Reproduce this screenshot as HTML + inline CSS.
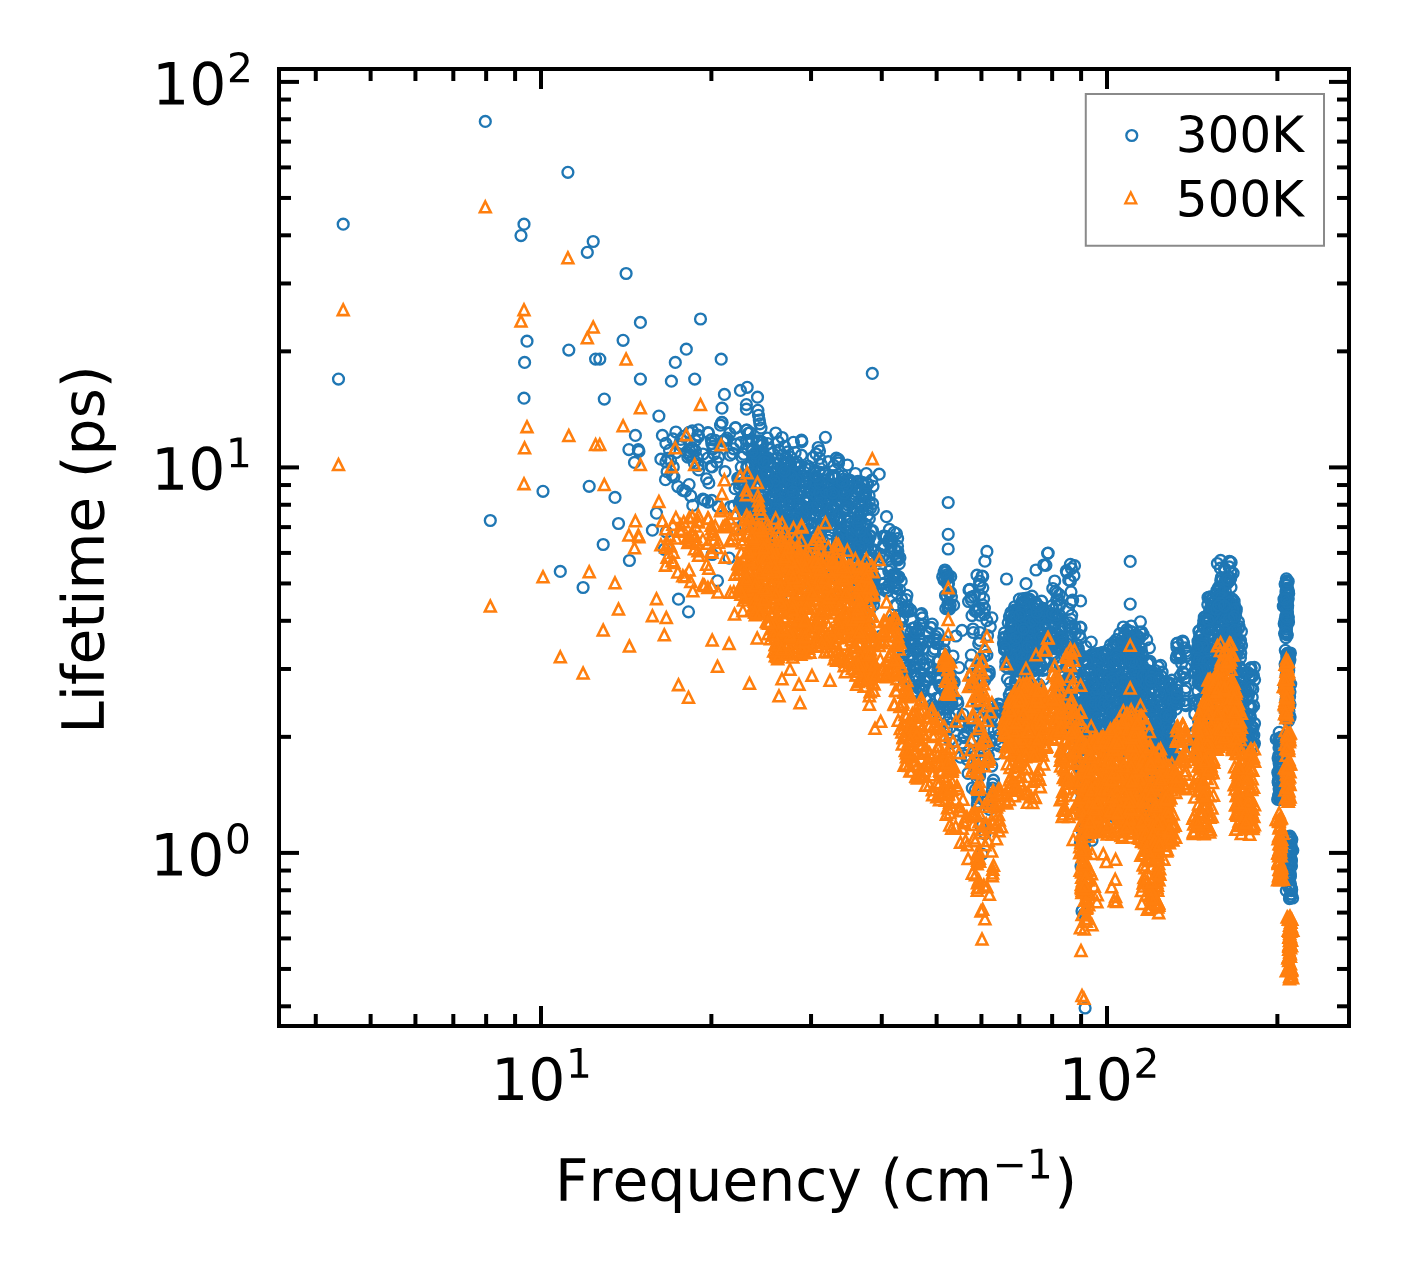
<!DOCTYPE html>
<html><head><meta charset="utf-8"><style>html,body{margin:0;padding:0;background:#fff;overflow:hidden;font-family:"Liberation Sans",sans-serif}svg{display:block}</style></head><body><svg width="1408" height="1275" viewBox="0 0 168.96 153" version="1.1"> <defs> <style type="text/css">*{stroke-linejoin: round; stroke-linecap: butt}</style> </defs> <g id="figure_1"> <g id="patch_1"> <path d="M 0 153 L 168.96 153 L 168.96 0 L 0 0 z " style="fill: #ffffff"/> </g> <g id="axes_1"> <g id="patch_2"> <path d="M 33.48 123.12 L 161.88 123.12 L 161.88 8.28 L 33.48 8.28 z " style="fill: #ffffff"/> </g> <defs><marker id="mc" markerUnits="userSpaceOnUse" markerWidth="16" markerHeight="16" refX="8" refY="8" overflow="visible"><circle cx="8" cy="8" r="5.43" fill="none" stroke="#1f77b4" stroke-width="2.35"/></marker><marker id="mt" markerUnits="userSpaceOnUse" markerWidth="16" markerHeight="16" refX="8" refY="8" overflow="visible"><path d="M8 2.57l5.43 10.86h-10.86z" fill="none" stroke="#ff7f0e" stroke-width="2.55" style="stroke-linejoin:miter"/></marker><clipPath id="axclip"><rect x="279" y="69" width="1070" height="957"/></clipPath></defs><g transform="scale(0.12)" clip-path="url(#axclip)"><path d="M485.3 121.4M567.9 172.3M343.2 224.2M524 224.2M521 235.6M593.2 241.5M587.3 252.3M626.1 273.5M640.4 322.4M700.5 319M527 341.2M623.1 340.3M568.8 350.1M686.3 349.2M524.6 362.4M595.6 359.1M599.8 359.1M675.3 362.4M338.5 379.1M640.4 379.1M671.4 381.2M694.7 379.1M524 398.2M604.3 399.1M658.9 416.1M721.2 359.2M872.3 373.4M543 491.3M589.2 486.3M615 497.4M490.3 520.5M618.5 523.5M603.2 544.5M560.3 571.4M583.1 587.5M629.4 560.5M656.5 513.2M652.4 530.2M666.3 532M664.3 549.3M678.5 599.2M688.5 611.8M712.2 554.5M729.1 558.1M717.5 580.8M749.5 597.8M757.2 552.6M734.5 528.5M742.9 525.2M756 525.2M749.5 503.2M741.8 505.4M692.8 505.4M704.5 500M711.7 500.4M635.4 435.4M662.4 435.4M675.9 432M628.9 449.6M638.3 449.6M638.9 451.4M634.5 462.4M660.9 459.2M667.8 458.3M687.8 457.1M695.4 450.8M672.1 475.3M677.8 486.6M682.8 490.3M702.9 499.1M697.9 435.1M707.9 432.6M721.7 422.6M735.5 427.6M746.8 430.1M722 408.2M724.4 394.4M740.4 390.4M747.2 387.3M757.5 397.2M746.4 404.6M746.4 409.2M757.9 410.3M758.5 415.3M759.3 420M759.9 423.8M761 428.1M722 422.4M720.5 425.2M735.5 428.1M746.5 430.2M748.2 433.3M775.7 433M801.5 440.1M825.4 437.3M784.5 446.3M795.1 452.5M816.1 453.9M807.9 466.1M821.4 464.6M833.9 465.7M847.4 465M879.2 474.2M867.6 484.2M708.5 433M698.5 436.6M727 438M767.4 438M948.2 502.5M948.2 534.3M948.2 549M886.5 516.7M889.4 529.4M899.2 563.7M956 636M962 630.4M953 656M959 667.6M986.9 551.4M984.9 561.2M1006.5 579M1026 583.7M1036 570M1047.6 553.3M1043.7 565M1048.2 553.1M1045.9 565.3M1054.7 581M1070.4 564.3M1070.4 581M1071 591.8M1071 602.5M1130.2 561.4M1130.2 604.1M1123.3 627M1131.2 626M1140.4 621.8M1140 632M1220.6 560.4M1286.4 578.8M1285.3 650.3M1085.1 1008M1084 914M1082 911M981 826M1092 840.4M1081 866M982 854M687.1 452.6M742.3 483.8M702.9 454M723 441.2M730.3 506.9M729.7 433.3M707.9 502.1M732.7 453.4M736.2 444.2M672.9 438.9M698 465.5M690.8 496M683.7 436.3M673.9 477.1M747.9 477.3M755.4 488.1M748.5 505.9M718 506.6M713 448.8M708.8 482.9M689.9 454.6M690.1 455.9M665.5 479.7M692.4 430.9M724.8 440.3M694.5 463.4M679.6 444M711 466.4M689.8 450.9M692.1 447.7M711.8 443.4M713.1 446.4M746.3 440.7M748.6 440.5M737.8 478.2M685.3 491.1M689.2 432.4M725 471.7M726.5 440.2M689.1 484.6M706.6 478.8M695.4 440.6M665.9 443.3M749.4 509.6M707.9 458M670.6 460.6M681.4 445.9M740.7 442.7M718.5 456.9M714.2 454M692.4 449.5M673.3 466.9M750.7 507.4M752 439.6M697.2 457.9M698.6 469.9M665.9 461.8M750.1 432.6M712 466.9M740.9 508.9M733.6 448.8M730 455.2M739.5 483.8M759.8 500.4M669.5 450.3M748.7 477.3M698.4 429.8M740.3 500.5M711.3 439.7M716.8 462M680.8 439.4M760.7 486.2M735.1 488.7M715.2 440.4M750.1 501.6M733.8 506.2M760.1 468.8M738.5 478.6M676.1 452.5M667.1 471.7M762.5 463.6M806.2 497.3M779.9 502.5M803.6 514.1M757.7 511.6M843.5 510M768.3 473.5M767.7 443.5M826.3 551.7M798 467.8M796.9 502.9M833.6 519.9M821.2 525.7M806.4 503M804.1 530.4M768.7 488.1M854.2 551.4M871.2 549.7M869 581.9M784.1 557.4M798.1 517.9M781 496.7M845.4 526.9M841.3 501.7M858.9 517.5M800.9 569M759 459.7M776.1 511.9M805 512.5M747.2 467.5M840.7 483.4M783.5 471.5M745.8 504.4M861.9 504.9M796.6 562.4M832.8 527.7M862.3 495.6M788.7 499.1M800.5 493.1M771.6 481.1M848.1 505.1M873.3 509.8M834.3 491.1M776 488.9M812 523M807.7 562M789.2 565.3M837.7 501.2M791.2 504.5M832.2 476.5M778.7 450M758.9 496.1M871.3 530.9M833.6 488M838.7 518.4M801.2 567.2M792.9 513.3M816.3 535.4M801.5 543.2M795.6 552.6M748.1 490.8M754.7 524.7M772.9 467.2M850.2 480.4M749 506.3M855.5 491.3M856.8 482M866.2 536.2M801.1 508.1M790.1 465.4M825.1 499.9M802.6 539.9M838.6 552M796.9 565.3M836 504.4M797.1 499.7M850.5 540.3M870.2 606.5M751.9 523.4M779.4 518M776.4 537.4M793.1 482.4M801.9 548.7M864 497.4M746.6 512M819.4 487.3M840.5 493.8M775.3 559.1M756.3 454.8M852.8 486.1M863.1 537.5M795.2 516.7M802.7 533.3M843.9 548.1M792.4 551.9M836.4 488.7M792.1 481M839.8 543.8M773.2 549.6M794.7 515.7M861.8 488.7M787.9 523.5M792.9 502.3M840.9 551.7M782.3 548.4M832.3 514.6M779.6 545M795.1 514.7M841.9 532.9M776.3 567M815.2 491.6M746.8 466.8M786.7 481.4M864.6 566M795.9 464.4M816.2 510.2M774.9 478.5M816.2 488.5M761.9 475.6M840.2 517.9M867 593.7M780.5 553.5M779 527.2M868 546.3M777.6 458.1M820.5 534M817.3 560.2M861.4 571.6M784.5 479.9M775.1 547.3M754.5 509M785.5 458.7M852.4 583.1M772.7 453.5M824.6 473.5M818.5 506M856.8 492.2M800.2 536.2M861.4 594.8M777.3 476.8M823 540.7M809.9 491.4M797.8 533.1M823.5 492.5M751.7 472.2M783.5 517.7M774.3 526.3M842.7 547.4M799.8 466M769.7 508.1M755.2 520.7M871.9 590.8M828.3 540.4M827.1 483.1M839.1 530.9M867 566.4M828.2 475.6M802.5 566.2M807.3 478.7M825.1 566.5M773 495.1M766.5 516.9M746.1 510.5M749.7 483.3M778.7 504.2M866 563.6M862 580.6M862.7 539.5M760.6 472M756.2 506.6M799.9 517.6M804.1 516.6M817.7 560.9M814.4 499.4M868.1 585.9M790.5 464.6M820.3 483.2M834.8 492.9M837.3 505.9M778.3 571.1M805.9 554.5M784.4 490.8M869.8 593.6M826.2 498.7M751.8 449.5M775.8 565.9M773.7 482.9M873.5 605.1M816.7 550.4M784 463.9M741.6 498.3M756 484.9M788.3 558.1M775.4 481.1M792.2 545M819.4 507.6M815 541.3M838.6 474.8M869.2 575.7M847.8 568.1M771.6 530.1M861 530.9M872.5 573.9M794.4 548.8M851.2 504.1M789.4 472.2M798.3 538.4M834.7 507.6M855.3 521.6M779.3 565.3M775.4 570.5M803.4 564.5M812.7 478.2M807.6 550.2M768.9 537.9M867.5 515.5M739.5 504.4M819.9 532.2M753.8 504.2M762 442M834.7 515.7M796.2 474.6M856.7 528.8M760 461.7M785.8 556.6M836.8 552.5M757.4 441.3M827.5 504M757.5 466.7M807.2 538.3M787.3 519.8M793.7 532.7M861.1 545.8M818.2 547.5M740.3 478.1M804.4 561.7M869.3 518.7M818.3 490.9M843.7 488.8M821 524.7M779.4 534.7M759.1 502.2M806 513.2M779.3 481.3M746.3 508.1M771.1 495.9M775.3 499.9M754.6 500.5M843.2 540.5M788.5 526.9M742.9 498.7M805.3 468.2M764.1 490.5M767.7 457.6M777.2 571M853.6 562.5M766.2 504.5M779.2 568.6M823.2 547.7M775.4 552.1M863.9 484.6M782.8 549.6M806.5 542.6M836.7 547.3M771.8 512.5M854.5 498.9M798.3 543.5M786.3 486.4M809.9 469.1M792.6 475M795.6 483.3M862.2 482.4M797.2 546.1M767.3 522.5M847.2 542.4M784 462.9M799.7 519M776.3 505.7M790.4 457.1M862.9 576.6M821.6 482.5M814.6 501.7M767.2 486.8M817.7 490.1M859.8 569M805.1 476M745.5 504.9M754.2 458.3M779.1 497.4M791.7 523.6M847.3 521.3M870.3 588.2M809.2 508.7M789.2 567.3M844.2 580.5M745.2 490.4M783.6 505.5M816.6 485.6M872.6 503.7M767.8 507.5M799.8 533.5M763.9 515.8M848.5 480.4M841.7 537.3M819.3 472.1M867.8 573.9M748.2 510.9M748.5 478.5M849.5 540.8M865.1 503M757.1 465.4M767.6 473.2M796.2 536.2M746.5 497.9M844.1 482.3M874.3 551.6M837.7 488.2M743.5 496.7M864.6 565.9M843.5 511.4M870.1 536.5M770.3 476.6M813.6 532.7M776.8 482.8M805.4 540.4M794.8 531.3M754.8 525.1M869.4 593.3M770 449.4M860.7 523.1M774.2 483.6M790.7 476.4M772.2 543.3M865.4 550.3M856.4 589.8M762.1 442.6M803.9 516.7M808.7 562.8M857.2 523.7M767.3 480.9M759.9 465.3M787.9 520.9M856.6 540.7M778 464.5M799 477.3M779.7 516.4M858.5 596.3M752.6 450.5M843.6 492.3M856.8 565.7M814.1 504.4M843.6 479M748.6 501.2M865.6 494.5M800.4 530.7M809.7 488.2M864.4 523.9M760.2 445.5M784 477.7M781.1 477.5M788.2 475.8M832.9 524.4M749.2 475M805.2 567.4M852 496.9M813.4 546.4M785.7 482.2M794.6 565.3M828.1 523.2M860.8 506.9M803.3 485.4M811.8 559.8M784.4 566.3M794.6 548.6M763.3 527.6M857.4 577.2M751.3 464.4M870.7 564.7M785.3 518.8M837.1 540.5M769.3 461.7M772.9 527.9M849.9 571.2M870 535.6M833.6 487M864.6 585.5M818.2 501M765.7 521.2M790.9 472.3M780.1 537.7M824.7 496.2M854 511.6M860 520.2M861.5 543.9M857.2 511.8M753.3 512.4M852.7 482.7M864.4 495.5M774.1 492.1M845 537.1M755.7 523.1M808.8 497.1M755.4 529.3M851.5 554.5M852.8 539.8M840.6 539M782.4 468.9M754.1 454.2M835 484.7M816.6 478.3M873 597.4M829.9 515.6M761.4 459.5M821.1 548.2M845.7 488.7M829.2 565.6M842.2 488.4M798.8 483.4M790.3 465.2M845.6 510M852.5 541M847.8 528.1M846.3 494.7M766.4 536.1M743.3 501.7M793.8 561.4M857.8 542M828.4 566.3M780.4 510.4M817.7 501.9M759.3 510.8M859.2 547.7M874 583.4M860.2 516.6M758.4 521.4M758.6 514.5M783.5 531.7M823.1 518.7M815.2 555.5M773.7 565.7M831.3 551.4M774.8 491.3M783.6 504.6M874.1 598.6M770.2 505.8M804.6 554M787.8 481M760.6 451.2M836.7 574.8M843.4 494.9M793.4 498.4M810.2 514.9M867.5 509.3M754.3 516M778.3 483.9M809 529.2M846 530.7M870.8 555M866.2 594M820.2 531.2M802.1 564.8M820.2 536.8M862 593.7M787.2 559.1M797 536.1M809.9 566.8M865 589.6M792 553.2M831.3 551.1M776 545.7M853.5 560.4M762.7 479.8M815.2 514.3M760.8 455.6M780.6 561.9M761.3 512.9M871 580.3M861.6 540.4M844.8 525.9M792.8 571.5M814.8 494.7M748.3 504.4M793.2 471.7M761.9 519.4M795.1 511M769.1 505.4M815 470.3M799.3 472.7M859.4 535.4M830.5 508.6M786.1 521M792 535.3M874.2 577.2M861.8 483.5M791.2 535.4M845.8 575M755.1 463M747.9 449.7M841.7 574.5M808.6 522.2M761.5 470.1M758.4 482.7M856.8 540M782.8 523.9M850.7 547.7M777.2 471.1M787.9 493.7M754.7 493.7M760.6 526.9M843.5 490.3M794.1 523.3M804 521.2M785.2 485.4M775.4 507.2M791.8 551.6M858.8 487.6M856.7 531.2M846.6 507.3M739.5 487.7M759.4 508M873 486.3M826.2 557.2M866.9 539M822.5 506.4M836.5 551.6M800.6 518M768.2 548.3M866.5 539.4M775.4 505.3M773.7 462.8M761.9 469.8M838.4 564.3M806.6 521.7M851.4 551M823.5 472.6M823.3 479.9M851.4 523.3M767.9 458.7M781.4 518.6M861.8 512M826.2 519.4M797.1 514.5M843.2 476.1M870.8 577.4M759.3 440.9M783.8 476.7M750.1 494.9M777.7 573.3M866.4 525.1M791.9 494.5M809.6 491.7M859.5 580.5M798.5 496.6M788.7 568.4M800.9 508.5M843.3 558.8M862.2 574M855 526.2M770.4 553.3M754.5 477.5M763.5 479M860.8 579.2M786.3 464.3M831.3 544M783.3 543.1M831.4 499.8M772.5 467.2M797.8 534.4M766.2 504.7M860.1 540.6M874 550.1M829.2 519.9M842.9 543.1M837.6 505.7M789.3 550.2M864.9 569.5M842.5 571.3M759.5 487.1M859.9 569.7M856.1 589.4M826.3 526.7M833 564.8M804.8 533.9M796.9 461.8M857.7 549.8M772 500.1M804.5 472.3M820.1 518.1M845 576.2M838.5 522.4M814.3 489.6M782.6 454.9M862 499.8M793.4 519.7M867 556.4M764 459.2M874.5 550.1M800.9 528.5M741.3 467.1M872.2 588.6M797.4 507.2M758.7 457.8M848.5 542.4M766.5 459.7M758.1 451.4M827.8 555.3M774.3 513.7M789.1 544.8M834.3 573.3M841.6 531M774.4 538.3M785.9 568.6M839.9 571.1M775.4 559.1M790.7 489.5M863.4 593.7M834.4 475.7M868.6 540.4M828.7 512.2M784.2 478.1M771.7 507.6M874.4 579.6M849.6 574.5M745.2 500.3M838.5 537.8M804.6 555.9M790 549.2M753.1 456M765.4 472M826 495.5M754.6 526.9M771.8 467.4M817 555.6M807.5 508.6M761.2 509.3M820.4 497.1M864.6 536.9M787 477.8M754.3 457.6M743.4 482.6M784.1 501.8M743.4 514.6M870.5 508.3M865.4 539.3M792.6 523.8M835.2 478.1M804.7 479.9M772.2 499.5M864.1 551.6M792 497.2M794.9 463.5M859.1 502.6M863.4 527.4M774.3 545M786 531.8M860 490.5M742.1 457.2M830.4 557M792.4 476.3M784.9 473.6M855.7 560.7M815.8 476.8M838.5 484.1M834.2 477.6M857.9 481.3M869.1 495.7M845.6 526.1M803.5 490.5M875.2 590.9M821.9 524.6M778.5 545.6M870.4 567.5M827.2 500.8M773.5 549.5M768 465.9M807.7 501.7M831.7 508.4M819.4 492.7M825.9 491.8M846 508.6M779.9 501.5M809.8 480.5M805.7 483.1M873.3 557.9M866.7 483.2M749.3 487.3M751.8 493.3M818.7 479M743.7 454.3M775.4 486.1M837.8 537.6M797 479.8M820.1 483.9M832.5 493M835.8 569.1M852.2 534.5M759.7 528M752.1 497.8M856.1 586.1M781.6 563.6M844.3 493.3M858.2 557M755 453.1M827.1 552.5M859.3 546.6M774.4 481M832 475.8M740.6 505.9M857.2 585.7M788.5 479.9M817.5 505.2M789.2 503M858.3 578.9M794.4 480.9M821.8 527.9M802.6 552.2M788.1 462.5M827.2 558.4M799 495.2M791.1 486.8M804.8 535.3M860.1 531.2M783.4 544.1M745.7 491.4M810.2 545.6M869.2 501.9M857.5 528.3M859.2 514.5M812.3 508M749.4 473.8M858 523.5M835.4 556.7M762.4 445.1M758.6 442.1M770 536.1M791.4 476M846.9 486.1M766.8 473.5M763.6 461.9M865.8 490.9M753.1 500.3M805 551.3M872.6 530.6M822 557.5M764 513.8M815.5 476.1M784.5 471.1M746.7 493.6M853.6 579.3M767.5 484.2M775.8 508.8M766.4 504.2M767.4 537.2M793.3 492.2M752.2 451.3M842.3 481.6M755.2 499.7M747.9 466.3M763.4 502.5M864.2 600.9M793.4 442.3M819.5 450.9M778.1 441.9M801.9 441.6M819.7 458.4M782.1 437.5M818.2 447.5M838.5 462.9M871.8 480.2M801.4 455.2M855.4 473.5M866.3 473.6M838.6 460.6M838.4 459.4M836.3 458.2M812.9 457.4M787.8 451.9M828.3 461.7M897.9 556.2M941.1 687.3M914.6 627.6M901.9 646.9M897.1 558.5M911.9 645.8M930.2 677.8M922.6 658.7M919.3 688.9M921.6 644.2M896.9 593.4M894.7 585.9M941.7 669.2M919.1 686.1M898.2 635M886.4 587.8M905.8 678.9M893.2 581.8M888.8 571.3M899.9 557.7M935.8 636.6M896.3 558.3M909.9 685.8M882 584.1M939 680.4M959.5 721.4M930.6 627.6M917.1 647.8M892.2 540M906.1 599.6M939.9 697.3M950.1 675.3M890.5 550.8M949.7 663.1M906.3 631.5M910.5 609.9M906.5 671.6M947.6 722.6M904.7 610.8M895.4 574.5M929.6 667.6M937.9 640.1M899.7 589.8M918.6 629.8M906.4 667.7M892.9 577.6M919.7 659.5M907.4 611.6M937.4 643.4M902.4 658.8M954.2 682M905 629.4M901.6 599.5M932.2 624.1M917.9 651.5M901.2 580.9M917.5 692.8M940.2 686.2M929.1 641.1M905.3 665.3M908.2 609.3M923.3 649.1M895.1 576.8M922.9 624.3M909.5 639.3M902.6 619M903.8 607.1M947.5 671.5M932.6 689.7M905.8 645.9M921.2 673.3M894.2 532.3M952 686.2M939.6 685.3M894.9 550.1M952.1 704.3M883.4 583.4M886.2 536.6M945.9 695.8M884.1 555.4M943 669.9M952.3 684.5M888.8 585.2M883.1 589.4M949.8 682.9M913 660.4M950.1 681.8M897.2 576.7M908.8 680.3M937.6 661.7M900 621.2M910.9 632.3M931.4 627.6M912.3 640.1M923.6 668M912.4 628.4M902.8 616.9M879.7 554M918 654.4M920.4 614.8M936.8 677.2M952.5 680.6M913 641.1M912.5 644.5M925.6 700.1M891.1 538.4M945.4 715.1M931.4 672M938 669.5M912.2 685.3M907.5 606.8M900.3 643.3M895.9 558.9M909.9 669.5M894.6 619.4M944.4 691M883.2 547.9M943.3 653.9M922.5 641.4M927.2 676.8M880.3 573.9M924.6 680.9M929.5 699.7M919 630.7M898.5 577.5M906.9 595.3M933.1 651.3M895.6 605M924.3 685.5M913.8 675.5M914 667M940.3 677.5M909.7 641.1M890.9 566.8M921.6 613.6M943.7 709.1M932.4 704.6M884.3 536M908.6 656.4M903.5 639.6M915.4 675.5M906.5 649.6M899 576.8M904.1 679.9M879.3 560.3M894 618.7M923.6 648.4M891.4 546.2M936.9 711.5M922.3 617.9M952.3 697.3M916.6 691.5M947.6 709.4M897.5 546M918.9 638.6M926.9 679.7M919.6 624.4M923 691.2M934.4 639.2M894.6 587.4M932.7 709.6M936.2 643.4M888.8 542.5M938.2 633.7M936.8 698M888.1 590.5M915.4 667.1M944.1 701.8M926.4 631.5M896.4 533.6M912.3 671.5M944.2 649.9M947.4 666.4M897.8 560M896.6 588.4M948.6 681.9M913 643.7M914.5 642.8M919.1 647.5M909.3 666.4M943.9 650.3M897.8 551.3M939.3 660.8M903.2 651.7M882.1 557.5M890.7 569.5M934.8 649.1M915.9 691.1M889.4 538.6M886.5 591.4M896.6 605.6M893.2 574.6M915.8 632M949.3 663M883.6 536.1M910.8 610.8M949 702.4M919.1 686.5M916.6 650.3M947.3 677.1M921.9 689.5M944.1 641.1M926.6 663.8M903.2 652.6M924 664.8M883.6 544.7M928.9 632.5M884.2 547.8M897.6 538.5M910.4 654.6M998.7 708.3M998.4 704.2M992.6 788M950.1 727.7M991.3 718.8M976.5 772.5M985.4 741M995 719.4M979.6 776.1M984.9 833.8M964.1 737.6M957 700.5M977.3 701.4M976.7 729.6M1000.2 704.6M979.3 773.3M963.8 735.8M977.6 775.2M992.8 784.2M990.3 714.4M992.8 737.3M1006.8 718.2M979 717.6M973.8 752.9M963 714.3M998.5 729.5M980.5 747.6M991.7 766.1M977.7 802.2M962.3 743.1M951.7 743.2M980 729.7M939.7 709.4M973.9 730.6M979.8 702.8M948.5 708.6M986.9 801.8M999.3 710.3M1005.9 709.1M977.5 797.7M977.3 767.6M939.5 714.7M977.3 805.2M999.3 735.1M971.8 729M960.5 757.2M949.7 717M990 711.4M967.4 759.6M984 721.2M966.9 731.6M986.2 738.5M968.1 773.4M962 725.7M991.9 717.3M977.1 702.7M994 730M972.3 788.1M977.2 778.6M992.3 790.8M975.3 755.8M996.5 753.9M945.3 704.3M996.5 722M999 745.9M981.3 744.5M982.7 824.4M993.5 780.2M998.4 720M985.1 759.7M992.4 709.7M989.4 809.4M955.6 714M1006 716.2M1005.3 709.6M990.5 742.7M959.6 725.2M949.8 739.9M993.2 705.9M978.7 766.2M983.8 800.1M965.6 755.4M950.8 702.4M1001.6 741.9M955.7 741.2M978.7 794.6M988.3 755.6M978 704.3M996.4 739.4M946.4 729.2M978.9 736.7M973.2 739.5M974.5 727.6M975.5 789.6M957.8 703.4M779 610.5M800 617.5M782 593.5M799 599M790 584M845.4 586.5M856.7 599M869.4 610.5M869.4 619M880.7 636M875 643M812 590M830 595M944.9 570M953.6 605.2M945.5 595.5M942.7 576.7M949.4 609M946.9 596M948.1 602.9M944 580.1M947 574.6M950.2 605M946.4 571.8M950.6 592.3M948.4 575.9M944.8 579.1M945.8 608.7M948 606.3M946.8 577.5M948.5 583.6M947.8 584.5M950.7 576.7M947.7 578.1M948.3 608.9M944.2 572.1M948.9 592.8M951.4 597.1M982.5 604.8M969 589.9M979.4 608.3M972 615.6M979.8 615.2M977 611M979.9 595.2M979.9 585.1M976.1 611M971.3 597.2M969.9 589.4M984.5 614.3M979.6 581M977 575.2M983.6 598.7M982.8 587.8M982.1 576M968.6 601.5M978.9 609.8M979.7 584.4M984.4 608.2M975.1 611.2M982.7 576.5M971.5 600.2M974.1 596.2M978.5 679M989.1 671.3M979.3 696.5M973 629M971.9 685.6M973.3 682.4M986.4 674.2M978.7 643.6M987.5 635.5M979.8 640.5M977.8 687.8M980.8 658.8M986.8 620.6M976.2 686.3M979.9 632.6M971.4 655.1M972.4 674.2M980.4 665.2M990.3 626.8M986.9 655.1M971.5 676.8M977.8 681.5M991.9 617.8M970.8 664.8M984.1 656.6M989.2 674.2M984.9 651.3M987.5 676.4M973.3 632.5M984.6 680.7M1043.8 614.3M1035.3 627.6M1017.7 622.5M1039.6 629.9M1033.5 664.8M1046.6 638.6M1031.9 665.4M1038 668.4M1030.9 671.2M1004.8 638.3M1019.4 599.1M1012.8 642.6M1004.5 632.9M1017.4 642.4M1014.5 610.1M1014.3 664.8M1011.3 631.2M1010.3 648M1018.4 614.1M1027.9 600.1M1039.5 657.1M1032.3 636.3M1011.5 623.8M1030.4 641.1M1016.7 637M1025.6 671.8M1037 618.5M1011 612.5M1040.9 667M1012.7 632.2M1009.2 643.5M1013 627.6M1018.9 653.3M1009.2 634.4M1034.6 624.6M1010.4 639.9M1030.7 629M1021.5 669.3M1035.4 662.8M1028.8 627M1039.8 641.9M1024 641.8M1024.5 636.2M1020.3 621.6M1040.2 651.1M1038.8 616.2M1036.9 653.4M1021.9 634.2M1010.9 643.3M1027.5 621M1031 630.8M1020.3 632.9M1014.3 630.8M1027.6 605.5M1016 662.9M1030.2 621.5M1008.1 667.8M1026.5 598.6M1029.4 638.5M1021.5 641.4M1042.6 608.5M1008.9 643.5M1028.5 655.6M1036.4 662.2M1044.6 648.9M1020.1 618.5M1038.1 639.8M1024.3 654.6M1021.7 655.2M1028 664.9M1022.1 630.8M1048.7 649.3M1015.5 668.1M1028.8 617.4M1025 614.8M1033 633.4M1018.8 639.3M1032.4 658.5M1028.7 600.5M1029.5 599.1M1024.1 652M1011.9 620.8M1042.5 612.4M1009.7 649.1M1026.8 623.1M1025 623.4M1013.6 637.9M1003.8 637.4M1014.6 606.8M1031.7 623.6M1014.6 655.7M1021.2 603M1009.5 616.6M1024 649.2M1035.1 618.3M1015 665.2M1022.5 620.4M1034.1 608.4M1003.5 643.5M1038.7 637.8M1025.3 657.1M1023.2 638.2M1043.2 608.3M1028.6 635.2M1035.1 662.5M1033.2 626.1M1030.4 657.6M1006.9 643.5M1016.1 636.5M1027.6 644.7M1020.5 610M1008.2 622.8M1046.8 642.6M1019.7 648.1M1024.8 600.4M1022.9 665.3M1019.9 611.2M1037.7 612.5M1022.9 649.8M1035.7 602.4M1012.6 660.6M1026.4 658.7M1025 638.6M1014 631.1M1020.2 666.7M1044.2 624.8M1039.9 612.8M1025.9 666.5M1045.5 616.3M1033.2 611.5M1041.5 643.7M1040.8 664.7M1026.8 598.1M1042.8 670.3M1044.2 622.8M1022.6 656.9M1031.4 640.9M1027.8 610.2M1014.2 652.5M1038.7 621.1M1021.7 654.1M1046.5 640M1004.5 649.9M1010.1 639.9M1017.5 670.4M1008.3 657M1046.8 661.6M1008.5 656.5M1027 617.7M1041 648.6M1035.4 661.5M1046.5 650.1M1013.2 641.3M1041.9 612.5M1015.9 630.3M1031.4 627.9M1044.5 660M1015.4 651.5M1023.3 620.9M1035.4 617M1033.9 640M1022.8 621.5M1042.7 652.4M1010.2 657.1M1022 647.1M1031.6 656.8M1042.5 619.6M1037.5 669.4M1035.6 659.2M1039.2 613.7M1025.9 640M1015.5 649.4M1032 596.2M1045.3 618.4M1015.4 670.9M1047 651.5M1017.2 610M1043.3 629M1028 613.6M1016.3 666.6M1034.5 652.8M1013.4 632.8M1014.1 640.9M1025.9 670.9M1039.7 630.3M1018.5 610.9M1040.3 638M1041.6 601.2M1036.7 604.8M1014.1 633.8M1005.1 642.4M1030.5 608.2M1011.6 657.1M1045.9 662.6M1032.4 645.7M1044.2 643.3M1028.9 605.5M1013.9 645.7M1034.3 620.1M1023.1 598.7M1009.4 637.3M1006.6 650.3M1023.9 604.4M1031.7 647M1016.1 637.9M1034.9 604M1045.4 626.4M1030.3 621.8M1011.4 614.8M1038.6 654M1016.3 616.6M1023.4 629.3M1004.4 647.5M1008.6 661.7M1005.7 666.7M1039.7 617M1036.7 669.5M1043.6 611.1M1010.7 625.8M1021.3 611.5M1005.8 661.7M1036.6 612.5M1038.4 605.9M1025.9 670.5M1023.5 629.1M1013.4 617.1M1027.7 646.7M1045 660.9M1033.7 670.8M1019.4 615.6M1027.1 682.7M1037.9 690.5M1028.4 708.2M1035.3 712.7M1027.5 717.5M1039 684.6M1010.1 682.6M1021.3 699.9M1009.5 714.6M1017.8 703.1M1015.4 681.3M1007.4 678.8M1011.8 697.9M1009.3 703.7M1016.6 678.6M1018.3 678.5M1031.2 712.1M1014 702.6M1015.8 686.7M1025.7 707.5M1039.7 694.5M1019.8 678.7M1015 701.6M1043.6 679.2M1036.6 694.7M1027 691.8M1019.6 675.9M1014.5 710.9M1033.4 696.5M1009.4 700.9M1020.7 690.5M1009.3 695.1M1019.3 696.1M1040.3 701.9M1034.8 711.9M1027.4 684M1018.7 705.3M1032.7 717.8M1010.8 691.6M1023.7 709M1052 605.8M1058 646.4M1054.2 617.3M1058.1 642.6M1055.3 618.2M1053.3 654.8M1057.3 648.6M1053.2 609.6M1058.4 617.7M1055.5 591.3M1057.8 639.6M1054.1 622.6M1057.1 618.7M1057 593.1M1054.6 625.6M1057.1 646.6M1057.5 633.8M1052.5 614.2M1056 633.1M1059.7 640.6M1055.1 614.6M1052.8 588.5M1057.4 645.2M1059.4 615.2M1052.1 653.1M1055.6 618.9M1052.1 647.6M1055.3 631M1058.7 641.8M1059.5 605.5M1059.3 594.6M1057.5 642.9M1056.3 606.3M1056 614.9M1058.5 599.9M1054 638.6M1055 648.6M1056.6 599.8M1054.1 637.4M1052.2 613.6M1068.7 579.9M1066.3 570.8M1067 572.6M1071 619.3M1072.6 600.2M1080.6 600.9M1073.9 575.7M1069 622.8M1074.5 565.7M1071.4 568.5M1068.4 609.4M1071.7 615.3M1072.6 651M1064.7 657.2M1063.8 729.4M1065.4 694.9M1064.9 627.8M1066 689.5M1076.5 678.7M1062.8 638.2M1072.6 654M1071.6 647.8M1070.5 670.3M1061 646.5M1076.1 671.5M1068.4 698.7M1066 704.4M1060.4 646M1078.6 696.4M1072.1 627.9M1075.5 667.6M1060.7 631.7M1060.3 665.8M1072.6 677.3M1071.5 694.1M1066.7 691.2M1066.9 654M1062.7 636.7M1071.9 698M1064.1 675.3M1076.1 667.9M1074.2 702.9M1062.3 732M1076.9 720.2M1062.9 673.2M1075.2 654.1M1062.6 711.2M1080.4 638.3M1080.2 696.5M1064.5 655.5M1078 703.1M1063.4 692.9M1063.5 683.5M1069.1 664.8M1064.7 685.4M1081.3 687.8M1067.5 637.6M1079.3 635.1M1068.5 677.2M1061.5 666.4M1075.3 633.7M1068.4 626.5M1068.7 664.7M1080.2 627.2M1071.2 687.1M1071.5 729M1075.8 696.5M1061.3 642.6M1075.8 722.6M1064 692.7M1080.5 654.6M1060.4 675.6M1066.8 664.9M1062.7 706.8M1062 713.8M1072.8 646M1074.7 627.3M1080.7 715.6M1081 627.8M1064 725.6M1064 676M1062.8 725.3M1067.4 694.9M1060.7 681.4M1077.4 651.3M1066.8 643.5M1071.2 636.9M1081.1 657.1M1069.7 656.5M1069.8 658.2M1081.6 656.2M1066 725.6M1078.3 648.5M1076.7 644.9M1060.3 715M1077.7 676.2M1075.6 665.7M1061.2 671.4M1075.2 710.4M1068.9 731.9M1071.1 647.8M1061.5 627.7M1086.4 768.9M1093.5 744.8M1090.1 748.2M1094.3 801.9M1089 724.8M1073.2 755.1M1090.4 709.7M1081.9 764.6M1091.2 642.1M1083 703.5M1089 793.4M1090.8 734.5M1082.1 830.1M1086.3 836.8M1086.5 834.2M1083.3 701.2M1081.1 696M1085.7 689.5M1091.5 657.8M1085.7 646.6M1085.4 677.3M1084.3 844.5M1087.6 742.5M1089.7 733.4M1086.9 691.2M1090.2 669.5M1081 749.7M1086.6 735.4M1083.8 688.3M1085.7 715.7M1082.5 778.1M1087.5 815.7M1079.9 657.7M1088.7 820.5M1091.1 655.2M1088.3 697M1091.5 789.4M1090.1 732.2M1082.7 683.7M1081.4 712M1084.8 823.8M1087.9 793.3M1086.3 816M1094.6 659.8M1086.6 830.4M1080.1 718.9M1084.9 659.5M1080.4 843.4M1083.2 785.8M1082.4 796.3M1081.3 802.6M1086.8 702.4M1083 724.4M1091.2 721.9M1086.9 809.5M1082.3 805.8M1080.9 758.1M1087 786.3M1085.9 780.4M1081.4 729.5M1092.5 706.2M1088.8 751.9M1086.2 742.5M1092.7 706.7M1086.4 804.3M1088.5 795.7M1089.5 785.3M1081.6 726.1M1087.4 705.4M1079.9 740.7M1083.6 768M1083.6 776M1086.3 824M1084 747.5M1086.9 822.7M1079.8 762.4M1083.6 767M1081.7 792.7M1080.1 785.7M1084.5 816M1092 746.6M1083.1 806.1M1086.1 763.9M1081.3 800M1085 775.7M1081.6 787.6M1089.1 746.8M1085.7 793.7M1079.7 768.2M1082.3 738.6M1081.9 808M1088.3 726.8M1085.6 800.4M1092.1 769.2M1078.4 715.8M1089.4 809.5M1082.1 756.6M1087.4 804.5M1081.7 804.1M1084.1 703.2M1085.8 726.7M1082.2 772.5M1089.3 714.2M1082.7 779.6M1081.2 726.4M1088 710.2M1082.3 757.6M1081.6 765.5M1081.3 713.2M1084.7 801.4M1111.7 802.7M1116.6 817.5M1115.2 795.1M1097.3 810.4M1114.2 816.7M1103.3 769.5M1115.6 812.4M1096.9 817.6M1115.6 775.1M1106.3 777.4M1101.4 720.7M1092.6 677.4M1097.2 747.4M1099.7 718.9M1086.6 697.9M1088.2 686.3M1094.7 661.6M1096.1 724.9M1096.5 684M1103.8 728.1M1093.3 664.5M1106.1 667.4M1107.7 705.8M1089.4 709.5M1104.5 689.5M1101.3 725.4M1090 668.6M1089.6 744.6M1106.6 670.5M1103.6 729M1087 735.7M1087 661.6M1102.4 670.6M1102.8 677.6M1103.3 726.7M1100.2 711.1M1094.3 719.5M1092 718.2M1102.2 716.8M1092.2 729.6M1094.6 689.4M1105.9 665.1M1088 671.8M1096.1 744.1M1105.1 737.3M1102.6 701.5M1102.9 669.2M1100.3 696.4M1095.5 712.1M1094.9 654.3M1106.2 692.1M1100.3 657.8M1089.4 691.8M1093.1 697.1M1103.9 714.7M1086.1 660.9M1102.5 731.8M1091.1 717.4M1101.1 708.9M1106 694.7M1089.8 690.1M1100.3 727.2M1094.4 680.3M1097.1 653.7M1099.1 744.8M1092.5 727.4M1104.1 689.6M1107.3 749.8M1086.6 663.5M1089 733.3M1095.1 700.4M1102.3 691.4M1095.7 654.2M1098.5 701.9M1094.7 655.9M1102.8 708.4M1092.1 728.6M1108 650.1M1103.9 654.3M1107.8 706.5M1094.6 669.8M1091.5 730.6M1098.4 706.6M1089.5 736.7M1093.7 688.9M1099.7 673.9M1092 684.6M1086.3 694.9M1096.5 735.7M1090.5 734.4M1101.4 675.2M1101.1 725.7M1087.7 683.5M1088.8 702.1M1086 681.3M1102 728.4M1103.6 653.9M1096.6 741.2M1094 703.8M1087.8 662M1100 730.9M1098.6 657.9M1101.2 652.9M1103.2 652.4M1093 712M1106.7 693M1096.5 734.5M1100.8 743M1105.6 711.3M1104.7 684.7M1086.1 701.2M1107.6 678.6M1097.5 733.8M1104.5 736.2M1103.7 709M1086.7 661.5M1098.9 680.1M1097.6 705.2M1100.2 742.7M1105.1 656M1095.1 702.6M1106.4 687M1089.1 686.9M1091.6 705.5M1097.1 732M1092.6 723M1104.4 675.8M1097.7 688.8M1100.8 701.7M1107.5 743.8M1093.7 683.9M1094.6 724.8M1100.8 705.6M1090.3 672.7M1097.7 718.4M1107.4 675.4M1090 737.2M1105.2 698.6M1104.4 741.3M1103.9 704.5M1127.6 744.2M1135.3 731.2M1121 680.7M1120.1 701.5M1145.4 750.4M1136.5 716.4M1126.5 696.7M1138.9 729.1M1118.5 670.6M1127.7 702.7M1133.9 642.4M1115.2 712.7M1136.1 641.1M1144.8 746.4M1120.5 683.3M1130.9 748.6M1119 656.3M1141 672.9M1114.3 667.3M1108.6 747.3M1126.5 741.8M1142.7 665.9M1129.5 641.7M1131.5 681.7M1144.4 742.7M1144.2 684.3M1134.2 643.9M1143.1 634.3M1122.6 753.2M1142.9 746M1114.8 714.1M1139.1 710.5M1119.8 715.5M1129.9 749.1M1144.6 703.2M1141.2 708M1123.2 701.7M1108.7 704.2M1130 703M1129.5 690.8M1136.2 662.3M1135.1 658.1M1136.7 658.9M1128.6 701.4M1115.6 666.6M1137.1 665.3M1146.5 707.5M1129.3 737.4M1136.2 635.2M1138.3 651.1M1113.6 723.5M1141.7 652.4M1109.7 670.1M1138.3 683.6M1124.9 734.8M1124.2 718.3M1124.9 729.5M1123.4 663.6M1132.6 716.6M1136.8 670.9M1147.1 740.5M1114.9 643.1M1123.8 711.8M1128.7 718M1115.6 702.4M1126.2 723.7M1123.8 684.3M1123.9 724.2M1136.9 664.1M1137.9 690.2M1132.5 658.4M1117.5 644.4M1140.5 749.7M1137.2 728M1116.4 653.4M1116.5 702.3M1131.9 646.7M1122.2 732.5M1130.9 681.6M1147.4 716.2M1139.9 684M1127.6 631.7M1130.5 740.7M1137.3 700.4M1118.2 692.7M1142.7 673.1M1122.9 662.8M1131.4 648M1140 740.3M1129.3 639.2M1149 691.9M1116.6 722M1112 729.2M1122.4 648.8M1113.7 682.8M1124.5 688M1146.7 755M1141.8 678M1137 692.6M1126.9 646.5M1124.5 645.2M1132 709.1M1120.5 747.9M1108.9 691M1149.3 710.2M1123.9 728.1M1116.5 670.8M1126.9 629.6M1118.9 664.8M1130.6 699.7M1126.9 687.4M1137.2 726.8M1148.1 683.8M1113.4 654.1M1114.6 705.4M1149.4 647.8M1133.7 671.4M1138.8 637.9M1122.1 724.5M1131.8 709.9M1131.9 722M1134.9 658M1116.5 679.5M1113.4 645.6M1139 657.8M1131.4 685.8M1147.3 721.9M1122.4 650.2M1122.5 738.7M1123.1 688.5M1133.7 653.6M1132.5 699M1126.4 697.3M1127 653.6M1132.3 675.2M1133.9 740.1M1143.9 689.4M1135.6 659.5M1125.4 689.2M1148.7 758.9M1147.9 663.5M1134.3 717.6M1142.5 757.4M1124.2 692M1132.1 737.4M1139.6 676M1127 695.9M1131.6 665.9M1149.5 735.2M1147.7 709M1116.4 639.6M1121.2 643.4M1136 718.8M1143.8 696.1M1146.6 697.4M1138.1 684.5M1149.9 678.2M1138 753.7M1147.4 673.3M1112.2 734.9M1119.7 633.7M1147.3 696.4M1123.7 668.8M1120.8 725.5M1120.7 684.5M1129.3 661.4M1147.4 670.4M1131.2 631.7M1143.5 682.4M1123.6 641.4M1122.7 685.8M1133.5 660M1120.2 733.2M1122.9 725.2M1134.6 731.5M1108.6 676.4M1131.7 742.7M1110.8 746.4M1136.1 725.8M1108.2 742.1M1130.8 665.1M1120 742.2M1110.6 682.9M1138.8 636.8M1115.8 685.7M1148.3 730.4M1116.5 645.5M1138.9 726M1149.2 753.3M1129.5 642.8M1124.5 634.4M1132.1 727.6M1122.5 643M1114.1 723.2M1122.1 690.3M1126.1 703.6M1129.1 679.5M1129.4 735.6M1149.1 690.7M1138.3 654.2M1111.5 720.3M1131.2 684.8M1140.1 679.9M1138.4 652.9M1124.3 703.6M1114.6 669.9M1114.2 642.2M1136.8 665.5M1146.7 639.8M1141.1 648.2M1116.1 724.3M1113.5 719M1138.6 740.4M1144.8 703.2M1137.4 672.5M1119.7 728M1110.8 738M1128.8 649.1M1118.3 659.7M1109.4 658.4M1148.6 682.7M1146.4 742.2M1113 700M1128.3 637.6M1138.4 670.1M1135.3 726.2M1138.1 717.1M1121 711M1138 693.5M1135.9 744.3M1117.1 645.1M1126.4 740.8M1144.9 710.2M1141.1 654.1M1113.5 705.6M1133.6 718.1M1116.5 738M1113.3 722.2M1117.7 746.7M1142.7 748.9M1127.1 742.9M1139.9 754.6M1129.7 735.2M1113.3 646.3M1110.5 644.9M1117 709.2M1133.2 747.5M1113.3 728.1M1128.7 707.2M1131.1 753.1M1130.2 705.1M1135.3 657.4M1143.2 656.6M1125.4 683.8M1145 736M1128.3 635.7M1140.4 716.9M1120.7 652.4M1147.2 750.5M1111.9 712.5M1144.9 707M1130.1 664.5M1142.4 693.3M1139.2 694.7M1133.8 713.9M1139.3 660.4M1135.7 662.9M1112.4 688.3M1134.9 735.3M1134.9 669.8M1118.2 716.8M1121 751.6M1131.4 706M1142 757.7M1129.7 645.4M1144.9 737M1115.8 659.7M1148.3 684.5M1136.5 686M1128.1 733.5M1131.6 661.8M1131.6 703.9M1128.3 645.2M1145.9 677M1122.5 638.1M1139.9 706.8M1141.9 736.7M1135.4 644.4M1127.9 727.8M1124.6 691.4M1113.4 665.3M1130 734.7M1110.3 726.5M1123.1 681.5M1110.8 695.4M1141.7 725.9M1112.4 749.8M1136 677.3M1130.2 713.6M1142.9 714.5M1129.7 724.3M1126.4 676.8M1143.1 738.6M1142 737.7M1117.6 728.7M1142.9 676.6M1116 655.4M1117.8 689.6M1149.6 702.1M1140.2 686.5M1131.1 683.1M1113.6 661.3M1116.5 680M1130 700M1141.7 632M1129.1 717.7M1131.2 653.8M1126.6 742.4M1114 688.5M1142.9 675.6M1124.3 709.2M1144.7 718.1M1139.4 638.3M1146.1 683.6M1132.1 696.7M1134.5 650.3M1123.5 682M1137.1 639.9M1112.2 678.8M1119.1 658.9M1164.6 743.5M1151 688M1161.4 676.4M1162.8 723.4M1156.7 748.9M1154.7 751.7M1166.4 747.4M1165.9 735.1M1170.4 731.8M1154.1 706.8M1161 720.9M1168.8 682.7M1169.4 699.1M1167.1 747.4M1150.1 661.4M1168.4 714.6M1162.7 738.6M1164.7 758.2M1154.7 677.2M1157 730.7M1167.6 719.4M1157.5 739.8M1157.3 745.8M1163.3 726.1M1155.8 725.3M1169.6 755.3M1171.8 706.7M1172.9 756.7M1169.4 701.5M1157.2 724.9M1159.7 700.1M1152.3 748.3M1155.6 757M1163.1 733.1M1160.7 725.5M1160.7 745.2M1156.4 702.1M1170 744.9M1172.9 743.1M1160.2 711.1M1159.3 706.7M1168.4 700.9M1156.1 712.2M1151.4 675M1151.5 682.5M1162.7 687.4M1154.7 692.1M1163.5 714M1175.6 753.9M1172.1 694.1M1169.4 696.1M1171.9 680.2M1158.4 666.7M1164.1 745.3M1160.5 740.4M1158.6 756.8M1155.3 670.5M1163.9 737.7M1170.7 714.5M1160.7 734.3M1154.6 746.8M1151.7 740.2M1170.3 714.4M1175.9 694.8M1154.7 677.3M1155.7 734.4M1153.9 738.6M1164 713.5M1159.5 737.5M1151.8 729.3M1166.1 716.6M1166.4 717.1M1161.9 723.3M1156.9 674M1153.5 737.5M1154.2 706.4M1154 704.4M1166.3 733.5M1169.8 730.9M1150.3 679.8M1166.1 720.1M1162.8 686.7M1165.6 686.7M1164.2 753.7M1162.1 672.2M1168.9 747.4M1171.4 703.1M1151.4 676.7M1175.2 741.9M1151.8 730.6M1169.7 745.3M1163.4 705.5M1150.1 663.3M1163.8 689.2M1150.9 718.8M1160 705.5M1156.5 678.1M1157.8 701.1M1167.6 742M1156.5 755.4M1157.9 748.2M1151 677.2M1167 744.3M1159.7 721.7M1166.9 741.3M1154.1 754.1M1173.2 730.8M1160.6 692.7M1153.6 672.9M1163.9 694M1156.1 720.9M1163.3 752.6M1169.2 683.7M1160.2 759.2M1164.5 753.3M1159.6 758.2M1169.2 722.6M1175 697.9M1168.4 742.2M1164.6 686.7M1164.4 717M1160.1 745.2M1168.9 710.3M1162.1 683.8M1173.6 740M1166.2 691.1M1172.4 749.8M1175 697.9M1163.6 681.7M1161.5 744.2M1167.2 728.1M1170.1 699.7M1160.6 665.3M1157.8 758.6M1169 716.6M1170.5 684.9M1167.6 758M1165.7 715M1159.8 756.9M1151.3 756.1M1175.9 709.2M1158.6 678.1M1168.3 741.8M1168.1 732.1M1150.9 680.8M1155.8 722.4M1160.6 695.6M1151.3 709.8M1172 688M1173 701.1M1144.5 796M1162.7 740M1153.9 742.9M1157.5 801.8M1156.5 750.9M1169.4 759.4M1156.9 799M1147.5 789.6M1167.3 766.4M1152.3 782.4M1154.1 806.2M1156.3 820.5M1156.8 786.3M1152.8 764.6M1171.5 747.6M1158.7 821.9M1147.9 756.7M1158 753.8M1162.9 754.6M1143.8 770M1141.6 757.3M1155.5 759.9M1143.2 799.3M1158.6 780M1151.4 763.9M1156.8 803.7M1157.8 823.5M1146.1 810.9M1149.7 752.8M1156.2 762.4M1158.4 819.3M1154.4 793.5M1150 811.9M1150.2 776.9M1146 749.5M1157.9 774.9M1165.3 762.2M1150.5 755.3M1158 788.2M1143.2 781.3M1150.6 823.8M1148.2 759.1M1158.8 788.9M1163 745.6M1168.5 749.7M1141.4 806.8M1147.8 775.3M1144.8 758.9M1148.8 769.5M1153.6 749.5M1155.2 757.9M1156.9 776.9M1159.7 785.2M1170.8 755.3M1147.2 763.3M1166.6 767.6M1147.5 797.7M1147.5 825.6M1159.1 775.4M1145 784.2M1143.9 793.7M1140.9 771.6M1155.5 772.2M1150.4 773.9M1154.2 757.3M1158.3 770.6M1162.1 745.5M1163.8 775.7M1155.2 762.4M1141.9 819.8M1159.6 761M1168.9 747M1157.8 740M1143.4 802.3M1147.5 766.6M1158.7 829.1M1159 796.1M1158.7 819.9M1154.3 819.2M1151.4 806.7M1157.9 796M1153.7 810.3M1157.7 806.9M1157.2 790.1M1155.4 814.5M1152.7 813.4M1152.1 808.7M1151.3 815M1151.6 798.2M1159.8 790.8M1216.9 590.3M1228.3 577M1230.4 561.9M1221.4 577.5M1225.2 579.9M1225.2 581.5M1229.2 566.9M1225.1 568.8M1231 587.3M1230.8 572.6M1217 592M1222.1 580.3M1227.9 582.5M1226.3 584.1M1221 594.1M1224.5 569.2M1220.8 580.5M1230.7 578.1M1225.4 591M1218.7 587.1M1231.1 562.4M1229.7 580.5M1222.9 591.9M1216.1 594.3M1233.1 573.1M1229.4 561.4M1219.6 588.9M1217.4 563.5M1227.6 579.6M1220.4 568.2M1236 628.6M1222.5 598.5M1235.9 611.7M1215.9 615.1M1228.2 609.5M1232.4 599.1M1222.5 606.8M1210.6 626.6M1230.9 620.6M1214.9 614.2M1217.8 608.3M1204.7 628.1M1205.2 622.8M1209.4 612.3M1219.4 607.3M1210.3 596.9M1212.3 598.1M1231.7 600.7M1209.1 597.4M1226.9 611.6M1207 619.5M1233.4 605.7M1220.8 627.7M1214.9 629.9M1221.6 606.2M1204.3 617.2M1228.2 624.6M1232.6 605.2M1216.3 615.3M1224.8 597.7M1207.8 604.6M1210.2 628.1M1221 615.2M1227.5 612.1M1211.2 603.2M1211.3 600.5M1206.1 622.5M1203 626M1222.9 603M1223.4 597.9M1228.4 613.6M1218.8 614.5M1215.7 609.5M1238.4 621.7M1210.1 609M1228.7 607.4M1238.5 628.6M1223.7 621.7M1239.1 626.5M1233.4 606.9M1211.6 626.6M1215.5 628.1M1220.8 620M1234.7 608.1M1220.1 607.1M1232.1 607.2M1228 627.5M1215 622.7M1234.4 605.5M1218.8 596.8M1225.9 600.7M1234 618.8M1234.1 601.2M1213.9 614.1M1226.4 628.3M1221.7 597.6M1228.9 602.9M1233.8 621M1213 614.8M1211.1 612.5M1210.3 626.3M1218.7 608.4M1230.1 602.2M1222.1 626.7M1230.7 608.4M1209.5 621.1M1213.1 608M1203.7 620.8M1234.5 614.1M1206.5 616.6M1206.2 620.3M1230.3 624.6M1208 621M1231.4 620.4M1229.9 609M1228.6 622.7M1235.6 616M1208 597.5M1232.9 609.5M1208.5 625.8M1236.3 609.2M1229.1 619.1M1213.8 602.5M1220.5 603.2M1224.5 607.2M1234.3 616.4M1216.6 609.5M1208.3 620.3M1218.4 605.5M1224.4 606M1215.1 642.7M1197 664.4M1205.9 648.4M1200.7 660.9M1199.4 630.8M1228.3 647.4M1227.8 633.9M1197.7 659.8M1230.4 640.5M1210.3 644.4M1199.9 648.3M1228.8 642.3M1222.8 641.5M1214.5 636.3M1220.8 641.1M1207.7 666.3M1239.6 666.6M1198.6 648.1M1224 654.2M1203.8 658.8M1201.9 634.2M1200.8 644.5M1236.5 639.8M1211.7 644.5M1200.6 646.3M1231.5 662.7M1217.6 631.7M1233.4 665.6M1200.1 657.2M1224.8 647.2M1203.5 649M1240.8 653M1232.3 665.9M1241.4 631.5M1218.8 647.1M1225.6 661.7M1232.2 632.8M1203.5 653.2M1208.7 639M1219.5 638.8M1198.4 642.4M1235 664.7M1218.5 663.9M1235.2 642.5M1227.6 648.3M1200.6 661.5M1202.4 654.6M1218.1 650.2M1235.5 631.7M1239.6 642.5M1234.6 636.7M1236.3 654.5M1234 656.9M1217.2 666.8M1235.8 631.9M1198.6 643.2M1226.1 631M1213.2 651.9M1209.4 658.3M1198 641.1M1231.7 657.7M1204.2 639.2M1227.8 634.2M1212.9 652.9M1226.8 649.3M1227.6 654.7M1217.5 653.1M1228.3 658.5M1219.7 640.9M1224.1 640M1206.5 648.4M1222.2 657.8M1200.8 641.7M1234.2 652.7M1199.2 654.7M1197.1 663M1225.4 649.7M1239.4 647.7M1198.9 656.7M1235.5 666.7M1208.9 648.8M1210.2 664M1219.2 658.4M1205.7 663.9M1219.7 651.6M1229.9 637.8M1229.7 661.6M1199.8 658.7M1213.7 665.1M1240.4 658.1M1232.2 648.6M1224.7 645.4M1232.8 660.7M1219.8 660.3M1238.1 651.8M1226.7 656.2M1226.9 630.2M1241.5 645.5M1199.5 636.7M1219.1 654.1M1234.7 643.6M1223.4 656.5M1232.5 667.6M1202.2 639.6M1203.5 652.4M1222.8 644.1M1208.4 652.8M1232 652.2M1231.7 639.1M1231.3 651.3M1203.4 647.3M1222.7 634.7M1230.3 658.8M1216.3 660.9M1224.7 653M1200.7 634.8M1231.3 636.7M1226.7 657M1229.7 639.5M1207 648.8M1198.4 665M1199.2 658.9M1226.7 654.8M1227.1 639.5M1221.2 648.5M1221.3 662.1M1218.8 630.8M1235.1 644M1240.5 640.4M1228.7 662M1216.3 659.3M1227.7 652.4M1225.2 631.1M1202.7 645.6M1233.1 630.8M1198.9 631.1M1235.8 665.1M1197.6 647.3M1220.6 655.6M1217.3 631.3M1219.8 646.7M1204.4 661.6M1224 654.7M1208.4 630.7M1211.7 666M1236 639M1207.5 661.4M1234.7 630.1M1226.2 647.5M1235.8 656.6M1194.4 732.3M1194.2 703.2M1200 707.9M1205.3 722.1M1201.1 698.8M1204 672.3M1204.2 750M1200.5 676.9M1209.3 690.6M1205 743.1M1203.1 676.8M1203 721.5M1201.2 672.5M1203.4 672M1207.2 695.9M1202.3 698.5M1210.1 734.6M1204.9 687M1200 680.6M1199.8 750.5M1206.1 715.3M1212 725.6M1202.2 686M1197.9 691.1M1207 721.6M1202.4 722.4M1193.7 700.5M1212.6 689.9M1200.9 681.1M1211.6 687.1M1207.3 731.9M1193.7 741.2M1203.1 670.8M1209.6 746.9M1212.5 700M1205.4 734.5M1210.3 747.2M1193.2 749.8M1203.8 749M1204 680.4M1213.8 679.9M1198.2 676.5M1197.6 737.9M1203.7 738.3M1208 684.1M1199.5 683.3M1213.5 712.7M1197.7 668.9M1202 729.2M1213 690.2M1202.6 668.8M1204 709M1209.7 713.3M1206.5 688.7M1193.6 748.2M1203.2 678.2M1200.7 728.7M1192.9 735.2M1204.3 687.9M1197.3 743.6M1203.6 707.9M1209.6 749.4M1208.4 743.6M1198.6 721.2M1200.3 732.1M1195.3 673.5M1199.3 702.6M1204 751M1203.1 679.6M1210.4 678.1M1205.6 676.6M1205.8 707.1M1197.7 670.8M1204.4 710.7M1201.8 699.6M1210.4 682.6M1197.4 700.3M1194.6 671.6M1201.9 710.8M1198.1 683.2M1202 700.6M1211 683.5M1194.8 714.1M1203.3 712.9M1202.4 731.8M1203.5 698.7M1199 742.3M1198.6 740.8M1202.9 738.8M1213.3 676.8M1212.1 734.1M1193.7 750.6M1196.3 738.3M1208.5 686.9M1204.7 678.4M1238.6 712.2M1242.8 723.4M1244.8 718M1245.6 722.8M1237.4 672.1M1249.7 752.9M1251.9 734.1M1238.7 724.6M1235.7 723.1M1248.4 695.5M1241.3 751.8M1236.3 713.8M1240 686.4M1251.2 707.5M1249.1 735.9M1254.4 667.4M1250 668.9M1250.2 706.9M1253.2 727.6M1238 684.7M1251.5 675M1236.9 671.2M1244.4 725.7M1245 738.1M1247.9 672.6M1251 667.9M1247.8 672.9M1254.6 679.8M1252.2 697.3M1234.2 702.7M1252.8 688.9M1249 677M1241.4 723.5M1245.8 689.5M1236.3 690.4M1236.7 699.6M1248.6 706.2M1237.4 733.3M1245.6 744.2M1235.1 707.1M1243.1 732.7M1253.6 705.9M1254.5 723.5M1241.8 680.8M1239.1 739.3M1244 673M1249.4 732.5M1253.2 745.2M1241.7 687.5M1239.9 694.9M1252.9 747.1M1242.4 681.7M1242.9 742.8M1237.4 690.2M1251.2 729.9M1245.2 727.5M1247 714.5M1243.8 717.9M1253.8 735.2M1247.8 735.4M1251.7 730.7M1248.2 743.9M1241.9 689.7M1235.9 731.4M1240.2 720.4M1244.8 686.1M1251.4 677.2M1237 713.8M1241.6 670.1M1234.6 684.9M1245.4 741.1M1238.4 718.1M1245.2 743.2M1251.3 677.2M1253.4 675.4M1254.4 743.5M1251.4 726.4M1243.3 730.5M1250.9 667.8M1238.2 693M1235.9 747.4M1239 720.7M1246.6 729.4M1237.1 732.4M1239.1 700.4M1249.9 718.8M1246.2 691.8M1235.9 747.4M1238.2 708.5M1245.7 746.2M1240 743.7M1248.3 687.6M1238.9 730.9M1241.2 731.2M1246.7 696.2M1243.4 697M1238.5 701.4M1239.1 686.2M1249.8 714.7M1235.8 671.3M1250.6 717.8M1251 687.4M1248 721.7M1235.8 722.7M1251.8 708M1246.7 699.7M1247.5 737.6M1245.4 731.6M1245.4 741.2M1237.8 721M1186.5 656M1176.8 643.7M1177.3 683.2M1184.5 700.6M1176.8 690.1M1186 705.6M1185.9 687.7M1176.8 655.9M1184.3 673.7M1186.8 653.4M1179.1 702M1176.9 697.3M1185 691.1M1176.9 647.3M1180.7 656.8M1178.1 653.7M1177 703.8M1181.6 663.3M1186.1 651.2M1177.6 643M1185.5 667.6M1185.2 678.2M1179 652.8M1175.9 700M1180.3 657.8M1183.5 642.6M1182.7 641M1176.3 658M1184.1 678.7M1184.9 704.1M1182.7 672.1M1182.6 641.8M1176.7 693.5M1180.1 676.2M1184.9 647.9M1287.5 593.3M1285.8 624.1M1288.4 591.3M1286.4 608.1M1285.6 600M1287.7 605.6M1285.3 604.2M1287.7 591.7M1287.4 613.2M1284.2 623.7M1287.9 599.1M1286.3 624M1286.6 607.5M1286.8 580.8M1288 616.9M1288 599.1M1286 600.2M1285.2 597.5M1288.2 617M1286.1 605.4M1287.2 611.7M1286.8 582.5M1283.3 606.2M1287.7 590.9M1287 594.7M1286.3 598.9M1285.7 624M1287.6 588M1287.3 635M1286.1 631.5M1286.4 623.2M1285.7 626.5M1286.7 610.3M1286.6 589.8M1286 591.4M1286.4 629.1M1286.6 633.8M1288.7 593.6M1286.1 594.4M1285 606.6M1287.2 604.7M1288.5 622.2M1284.7 624.6M1286.8 585.3M1285.8 600.4M1285.1 620.2M1287.5 607.4M1284.6 633.6M1286.7 602.1M1287 625M1287.8 618.9M1286.8 633.8M1285.9 637.7M1285.7 616.4M1285.3 632.4M1285.1 584M1288.2 581.5M1286.4 599M1284 599.2M1286.7 617.4M1287.5 654M1289 719.3M1287.6 669.8M1288.3 658.9M1288 689.2M1288.9 710.9M1286.5 705.7M1288.3 703.6M1286.4 693.9M1289.1 714.9M1290.1 717M1287.2 653.7M1289 702.5M1288.6 668.1M1284.5 687.6M1290 691.8M1285.1 664M1287.8 684.3M1289 679.6M1286.7 690.7M1287.6 694.3M1287.4 695.4M1286.3 688.2M1289.3 684.3M1288.1 687.9M1288.2 721.2M1286.8 656.5M1288.1 717.7M1285.9 700.3M1290 704.6M1288.3 653.9M1290.7 684.1M1289.3 656.5M1288.7 670.4M1289.5 653.9M1288.5 700.8M1287.9 665.1M1289.1 658M1286.1 688.6M1286.2 675.2M1284.9 709.9M1290.4 653M1289.6 696.7M1287.1 688.7M1289.3 661.7M1289.9 659.7M1288.1 719.1M1287.1 658.7M1286 668.5M1288.6 697.9M1288.5 711.7M1288.3 716.6M1287.8 687.3M1285.5 717.9M1286.9 668.7M1287.6 653.3M1287.1 653.9M1288 655.5M1287.3 707.6M1286.9 668.2M1281.8 787.6M1280.8 771.7M1281 789.5M1281.9 749.8M1279.5 796.7M1279.1 788.8M1280.6 763M1279.5 772.5M1278.4 780.6M1280.2 768.1M1279.2 741.2M1279.8 745.4M1281.1 785.2M1279.6 794.7M1280.8 737.4M1280 799.5M1280.5 763.9M1279.5 798.6M1279.5 796.5M1280.6 765.4M1278.5 781.5M1281.1 766.3M1281.4 737.4M1278.6 795.3M1279.2 732.3M1280.7 788M1278.2 782.2M1280.4 790.5M1277.7 799.4M1281.8 791.8M1281.3 775.4M1281 799.1M1278.4 783.1M1281.8 758.9M1278.8 755.4M1279.8 793.5M1279.3 780.2M1280.4 745.9M1278.6 740.6M1280.4 756.9M1279.1 763.2M1278.1 758.3M1283.1 753M1279 747.7M1279.8 789.5M1280.1 763.1M1279.7 794.8M1280.1 769.2M1279.1 781.2M1281 784.7M1279.3 768.9M1277.8 772.5M1276.2 739M1278.5 772.9M1279.8 792.4M1281.6 762M1278.7 775.4M1279 739.4M1280.1 738.4M1283.5 798.9M1289.4 851.4M1291.7 889.6M1290.3 889M1289.3 850.3M1290.3 876.5M1290.1 863.2M1289.9 863.7M1289.5 885.2M1289.1 865.7M1291.3 846.7M1291.4 865.9M1289.5 898.7M1289 864.8M1291.3 890.6M1291 890M1289 857.4M1291.2 888.2M1289.3 866.3M1288.7 880.5M1291.8 839.5M1289.1 866.2M1290.7 842.5M1289.7 853.5M1290.1 859.7M1290 888.4M1289.9 839.6M1290.5 883.9M1286.3 890.7M1288.8 869.3M1290.9 896.5M1291.1 865.4M1288.7 887.5M1287.2 837M1287.9 877.9M1290.3 873.8M1289.2 856.7M1289.2 837.6M1290.5 867.7M1290.6 857M1288.4 839.3M1290.8 850.9M1289.7 850.2M1290 836.2M1290.9 851M1289.9 860.4M1291.4 860.4M1290.1 876.3M1291.3 859.9M1292.6 898M1288.6 876.3M1290 850.8M1291.3 894M1288.3 850.2M1289.6 860.6M1289.8 850.9M1289.7 896.5M1290.9 842.4M1289.7 872M1292.8 850.3M1289.6 845.3" fill="none" stroke="none" marker-start="url(#mc)" marker-mid="url(#mc)" marker-end="url(#mc)"/><path d="M485.3 206.9M567.9 257.8M343.2 309.7M524 309.7M521 321.1M593.2 327M587.3 337.8M626.1 359M640.4 407.9M700.5 404.5M527 426.7M623.1 425.8M568.8 435.6M686.3 434.7M524.6 447.9M595.6 444.6M599.8 444.6M675.3 447.9M338.5 464.6M640.4 464.6M671.4 466.7M694.7 464.6M524 483.7M604.3 484.6M658.9 501.6M721.2 444.7M872.3 458.7M543 576.8M589.2 571.8M615 582.9M490.3 606M618.5 609M603.2 630M560.3 656.9M583.1 673M629.4 646M656.5 598.7M652.4 615.7M666.3 617.5M664.3 634.8M678.5 684.7M688.5 697.3M712.2 640M729.1 643.6M717.5 666.3M749.5 683.3M757.2 638M734.5 614M742.9 610.7M756 610.6M749.5 588.7M741.8 590.9M692.8 590.9M704.5 585.5M711.7 585.9M635.4 520.9M662.4 520.9M675.9 517.5M628.9 535.1M638.3 535.1M638.9 536.9M634.5 547.9M660.9 544.7M667.8 543.8M687.8 542.6M695.4 536.3M672.1 560.8M677.8 572.1M682.8 575.8M702.9 584.6M697.9 520.6M707.9 518.1M721.7 508.1M735.5 513.1M746.8 515.6M722 493.7M724.4 479.9M740.4 475.9M747.2 472.8M757.5 482.6M746.4 490.1M746.4 494.7M757.9 495.7M758.5 500.7M759.3 505.4M759.9 509.2M761 513.5M722 507.9M720.5 510.7M735.5 513.6M746.5 515.7M748.2 518.8M775.7 518.4M801.5 525.5M825.4 522.7M784.5 531.7M795.1 537.9M816.1 539.3M807.9 551.5M821.4 550M833.9 551.1M847.4 550.4M879.2 559.5M867.6 569.5M708.5 518.5M698.5 522.1M727 523.5M767.4 523.4M948.2 587.7M948.2 619.5M948.2 634.2M886.5 602M889.4 614.7M899.2 649M956 721.1M962 715.5M953 741.1M959 752.7M986.9 636.4M984.9 646.2M1006.5 663.9M1026 668.5M1036 654.8M1047.6 638M1043.7 649.7M1048.2 637.8M1045.9 650M1054.7 665.7M1070.4 648.9M1070.4 665.6M1071 676.4M1071 687.1M1130.2 645.4M1130.2 688.1M1123.3 711M1131.2 709.9M1140.4 705.6M1140 715.8M1220.6 642.7M1286.4 658.9M1285.3 730.5M1084 998.4M1082 995.5M981 911.1M1092 924.8M1081 950.5M982 939M687.1 538M742.3 569.3M702.9 539.4M723 526.7M730.3 592.4M729.7 518.8M707.9 587.6M732.7 538.9M736.2 529.6M672.9 524.4M698 550.9M690.8 581.5M683.7 521.7M673.9 562.6M747.9 562.8M755.4 573.5M748.5 591.3M718 592M713 534.3M708.8 568.3M689.9 540M690.1 541.4M665.5 565.2M692.4 516.4M724.8 525.8M694.5 548.8M679.6 529.4M711 551.9M689.8 536.4M692.1 533.1M711.8 528.9M713.1 531.9M746.3 526.1M748.6 526M737.8 563.6M685.3 576.6M689.2 517.9M725 557.2M726.5 525.6M689.1 570.1M706.6 564.3M695.4 526M665.9 528.8M749.4 595.1M707.9 543.4M670.6 546M681.4 531.4M740.7 528.2M718.5 542.4M714.2 539.5M692.4 535M673.3 552.4M750.7 592.9M752 525.1M697.2 543.4M698.6 555.4M665.9 547.3M750.1 518.1M712 552.3M740.9 594.4M733.6 534.3M730 540.7M739.5 569.2M759.8 585.8M669.5 535.7M748.7 562.7M698.4 515.3M740.3 586M711.3 525.2M716.8 547.5M680.8 524.9M760.7 571.7M735.1 574.2M715.2 525.9M750.1 587M733.8 591.7M760.1 554.2M738.5 564.1M676.1 538M667.1 557.2M762.5 549M806.2 582.7M779.9 587.9M803.6 599.5M757.7 597M843.5 595.4M768.3 558.9M767.7 528.9M826.3 637M798 553.2M796.9 588.3M833.6 605.3M821.2 611.1M806.4 588.4M804.1 615.8M768.7 573.5M854.2 636.8M871.2 635.1M869 667.2M784.1 642.9M798.1 603.3M781 582.1M845.4 612.3M841.3 587.1M858.9 602.8M800.9 654.4M759 545.2M776.1 597.3M805 597.9M747.2 553M840.7 568.8M783.5 556.9M745.8 589.8M861.9 590.2M796.6 647.9M832.8 613M862.3 580.9M788.7 584.6M800.5 578.5M771.6 566.5M848.1 590.5M873.3 595.1M834.3 576.5M776 574.3M812 608.4M807.7 647.4M789.2 650.7M837.7 586.6M791.2 589.9M832.2 561.8M778.7 535.4M758.9 581.5M871.3 616.2M833.6 573.4M838.7 603.8M801.2 652.6M792.9 598.7M816.3 620.8M801.5 628.6M795.6 638M748.1 576.2M754.7 610.2M772.9 552.6M850.2 565.8M749 591.7M855.5 576.6M856.8 567.4M866.2 621.6M801.1 593.5M790.1 550.8M825.1 585.3M802.6 625.3M838.6 637.4M796.9 650.7M836 589.8M797.1 585.1M850.5 625.7M870.2 691.9M751.9 608.8M779.4 603.4M776.4 622.9M793.1 567.8M801.9 634.1M864 582.7M746.6 597.5M819.4 572.7M840.5 579.2M775.3 644.5M756.3 540.2M852.8 571.4M863.1 622.8M795.2 602.1M802.7 618.7M843.9 633.4M792.4 637.3M836.4 574M792.1 566.5M839.8 629.1M773.2 635M794.7 601.1M861.8 574.1M787.9 608.9M792.9 587.7M840.9 637.1M782.3 633.8M832.3 600M779.6 630.5M795.1 600.2M841.9 618.2M776.3 652.4M815.2 577M746.8 552.2M786.7 566.8M864.6 651.3M795.9 549.9M816.2 595.6M774.9 564M816.2 573.9M761.9 561M840.2 603.3M867 679M780.5 638.9M779 612.7M868 631.6M777.6 543.6M820.5 619.4M817.3 645.6M861.4 657M784.5 565.3M775.1 632.8M754.5 594.4M785.5 544.2M852.4 668.5M772.7 538.9M824.6 558.9M818.5 591.4M856.8 577.6M800.2 621.6M861.4 680.2M777.3 562.2M823 626.1M809.9 576.8M797.8 618.5M823.5 577.9M751.7 557.6M783.5 603.2M774.3 611.7M842.7 632.8M799.8 551.4M769.7 593.5M755.2 606.1M871.9 676.1M828.3 625.8M827.1 568.5M839.1 616.2M867 651.7M828.2 561M802.5 651.6M807.3 564.1M825.1 651.9M773 580.6M766.5 602.3M746.1 596M749.7 568.8M778.7 589.6M866 648.9M862 666M862.7 624.8M760.6 557.5M756.2 592M799.9 603.1M804.1 602M817.7 646.3M814.4 584.8M868.1 671.2M790.5 550.1M820.3 568.6M834.8 578.3M837.3 591.3M778.3 656.6M805.9 639.9M784.4 576.2M869.8 679M826.2 584.1M751.8 535M775.8 651.3M773.7 568.4M873.5 690.4M816.7 635.8M784 549.4M741.6 583.8M756 570.4M788.3 643.6M775.4 566.5M792.2 630.4M819.4 593M815 626.7M838.6 560.2M869.2 661M847.8 653.5M771.6 615.5M861 616.2M872.5 659.2M794.4 634.2M851.2 589.5M789.4 557.6M798.3 623.8M834.7 593M855.3 607M779.3 650.8M775.4 655.9M803.4 650M812.7 563.6M807.6 635.6M768.9 623.3M867.5 600.9M739.5 589.9M819.9 617.6M753.8 589.6M762 527.4M834.7 601M796.2 560.1M856.7 614.2M760 547.1M785.8 642.1M836.8 637.9M757.4 526.8M827.5 589.4M757.5 552.1M807.2 623.7M787.3 605.2M793.7 618.1M861.1 631.2M818.2 632.9M740.3 563.6M804.4 647.1M869.3 604M818.3 576.3M843.7 574.2M821 610.1M779.4 620.1M759.1 587.6M806 598.6M779.3 566.7M746.3 593.5M771.1 581.4M775.3 585.3M754.6 586M843.2 625.9M788.5 612.3M742.9 584.1M805.3 553.7M764.1 575.9M767.7 543.1M777.2 656.5M853.6 647.9M766.2 590M779.2 654.1M823.2 633M775.4 637.5M863.9 569.9M782.8 635.1M806.5 628M836.7 632.6M771.8 597.9M854.5 584.3M798.3 628.9M786.3 571.8M809.9 554.5M792.6 560.5M795.6 568.7M862.2 567.8M797.2 631.5M767.3 607.9M847.2 627.7M784 548.3M799.7 604.4M776.3 591.1M790.4 542.5M862.9 661.9M821.6 567.9M814.6 587.1M767.2 572.2M817.7 575.5M859.8 654.3M805.1 561.4M745.5 590.3M754.2 543.8M779.1 582.9M791.7 609M847.3 606.7M870.3 673.5M809.2 594.1M789.2 652.7M844.2 665.8M745.2 575.9M783.6 590.9M816.6 571M872.6 589M767.8 593M799.8 618.9M763.9 601.2M848.5 565.7M841.7 622.7M819.3 557.5M867.8 659.3M748.2 596.3M748.5 564M849.5 626.2M865.1 588.3M757.1 550.9M767.6 558.6M796.2 621.6M746.5 583.4M844.1 567.7M874.3 636.9M837.7 573.6M743.5 582.2M864.6 651.2M843.5 596.8M870.1 621.9M770.3 562M813.6 618.1M776.8 568.3M805.4 625.8M794.8 616.7M754.8 610.6M869.4 678.6M770 534.8M860.7 608.4M774.2 569M790.7 561.8M772.2 628.7M865.4 635.7M856.4 675.1M762.1 528M803.9 602.1M808.7 648.2M857.2 609.1M767.3 566.4M759.9 550.8M787.9 606.3M856.6 626.1M778 549.9M799 562.8M779.7 601.8M858.5 681.6M752.6 535.9M843.6 577.6M856.8 651.1M814.1 589.8M843.6 564.4M748.6 586.6M865.6 579.8M800.4 616.1M809.7 573.6M864.4 609.2M760.2 530.9M784 563.1M781.1 563M788.2 561.3M832.9 609.8M749.2 560.5M805.2 652.8M852 582.2M813.4 631.8M785.7 567.6M794.6 650.8M828.1 608.6M860.8 592.3M803.3 570.8M811.8 645.2M784.4 651.8M794.6 634M763.3 613.1M857.4 662.5M751.3 549.9M870.7 650M785.3 604.2M837.1 625.8M769.3 547.1M772.9 613.4M849.9 656.6M870 621M833.6 572.4M864.6 670.8M818.2 586.4M765.7 606.7M790.9 557.7M780.1 623.1M824.7 581.6M854 597M860 605.5M861.5 629.3M857.2 597.2M753.3 597.8M852.7 568M864.4 580.8M774.1 577.6M845 622.4M755.7 608.5M808.8 582.5M755.4 614.8M851.5 639.8M852.8 625.2M840.6 624.4M782.4 554.4M754.1 539.6M835 570.1M816.6 563.7M873 682.7M829.9 600.9M761.4 544.9M821.1 633.6M845.7 574M829.2 651M842.2 573.8M798.8 568.9M790.3 550.6M845.6 595.3M852.5 626.4M847.8 613.5M846.3 580M766.4 621.6M743.3 587.1M793.8 646.8M857.8 627.3M828.4 651.7M780.4 595.8M817.7 587.3M759.3 596.2M859.2 633.1M874 668.7M860.2 602M758.4 606.8M758.6 599.9M783.5 617.2M823.1 604.1M815.2 640.9M773.7 651.1M831.3 636.8M774.8 576.7M783.6 590.1M874.1 684M770.2 591.3M804.6 639.4M787.8 566.4M760.6 536.6M836.7 660.2M843.4 580.2M793.4 583.9M810.2 600.3M867.5 594.6M754.3 601.4M778.3 569.3M809 614.6M846 616M870.8 640.3M866.2 679.3M820.2 616.6M802.1 650.2M820.2 622.2M862 679.1M787.2 644.5M797 621.5M809.9 652.2M865 674.9M792 638.7M831.3 636.5M776 631.1M853.5 645.7M762.7 565.3M815.2 599.7M760.8 541M780.6 647.4M761.3 598.3M871 665.6M861.6 625.7M844.8 611.2M792.8 657M814.8 580.1M748.3 589.8M793.2 557.1M761.9 604.8M795.1 596.5M769.1 590.9M815 555.7M799.3 558.1M859.4 620.8M830.5 593.9M786.1 606.4M792 620.7M874.2 662.5M861.8 568.9M791.2 620.8M845.8 660.3M755.1 548.5M747.9 535.2M841.7 659.9M808.6 607.6M761.5 555.6M758.4 568.1M856.8 625.3M782.8 609.3M850.7 633M777.2 556.5M787.9 579.2M754.7 579.1M760.6 612.3M843.5 575.6M794.1 608.7M804 606.6M785.2 570.9M775.4 592.6M791.8 637.1M858.8 572.9M856.7 616.6M846.6 592.6M739.5 573.1M759.4 593.4M873 571.7M826.2 642.6M866.9 624.4M822.5 591.8M836.5 637M800.6 603.4M768.2 633.7M866.5 624.8M775.4 590.7M773.7 548.2M761.9 555.2M838.4 649.6M806.6 607.1M851.4 636.4M823.5 558M823.3 565.3M851.4 608.7M767.9 544.2M781.4 604M861.8 597.4M826.2 604.8M797.1 599.9M843.2 561.5M870.8 662.7M759.3 526.3M783.8 562.1M750.1 580.4M777.7 658.8M866.4 610.4M791.9 579.9M809.6 577.1M859.5 665.9M798.5 582M788.7 653.8M800.9 593.9M843.3 644.2M862.2 659.4M855 611.5M770.4 638.8M754.5 562.9M763.5 564.4M860.8 664.6M786.3 549.7M831.3 629.4M783.3 628.6M831.4 585.1M772.5 552.7M797.8 619.8M766.2 590.2M860.1 626M874 635.5M829.2 605.3M842.9 628.5M837.6 591.1M789.3 635.6M864.9 654.9M842.5 656.7M759.5 572.5M859.9 655.1M856.1 674.8M826.3 612.1M833 650.1M804.8 619.3M796.9 547.3M857.7 635.1M772 585.5M804.5 557.7M820.1 603.5M845 661.6M838.5 607.8M814.3 575M782.6 540.4M862 585.1M793.4 605.1M867 641.8M764 544.7M874.5 635.4M800.9 613.9M741.3 552.6M872.2 673.9M797.4 592.6M758.7 543.3M848.5 627.7M766.5 545.2M758.1 536.8M827.8 640.7M774.3 599.1M789.1 630.2M834.3 658.7M841.6 616.4M774.4 623.7M785.9 654.1M839.9 656.5M775.4 644.5M790.7 574.9M863.4 679M834.4 561M868.6 625.8M828.7 597.6M784.2 563.5M771.7 593M874.4 664.9M849.6 659.8M745.2 585.7M838.5 623.1M804.6 641.3M790 634.6M753.1 541.4M765.4 557.4M826 580.9M754.6 612.3M771.8 552.8M817 641M807.5 594M761.2 594.8M820.4 582.5M864.6 622.2M787 563.2M754.3 543.1M743.4 568M784.1 587.2M743.4 600M870.5 593.6M865.4 624.7M792.6 609.2M835.2 563.5M804.7 565.3M772.2 585M864.1 637M792 582.6M794.9 548.9M859.1 587.9M863.4 612.8M774.3 630.4M786 617.3M860 575.8M742.1 542.7M830.4 642.4M792.4 561.8M784.9 559M855.7 646.1M815.8 562.2M838.5 569.4M834.2 562.9M857.9 566.6M869.1 581.1M845.6 611.5M803.5 575.9M875.2 676.2M821.9 610M778.5 631M870.4 652.8M827.2 586.2M773.5 634.9M768 551.3M807.7 587.1M831.7 593.8M819.4 578.1M825.9 577.2M846 594M779.9 586.9M809.8 565.9M805.7 568.5M873.3 643.2M866.7 568.5M749.3 572.7M751.8 578.8M818.7 564.4M743.7 539.8M775.4 571.6M837.8 623M797 565.3M820.1 569.3M832.5 578.3M835.8 654.5M852.2 619.8M759.7 613.5M752.1 583.3M856.1 671.4M781.6 649.1M844.3 578.7M858.2 642.4M755 538.5M827.1 637.9M859.3 631.9M774.4 566.4M832 561.2M740.6 591.3M857.2 671M788.5 565.4M817.5 590.6M789.2 588.4M858.3 664.3M794.4 566.3M821.8 613.3M802.6 637.6M788.1 547.9M827.2 643.8M799 580.6M791.1 572.2M804.8 620.7M860.1 616.6M783.4 629.5M745.7 576.8M810.2 631M869.2 587.3M857.5 613.7M859.2 599.9M812.3 593.4M749.4 559.2M858 608.8M835.4 642.1M762.4 530.6M758.6 527.5M770 621.6M791.4 561.4M846.9 571.5M766.8 558.9M763.6 547.3M865.8 576.3M753.1 585.7M805 636.7M872.6 615.9M822 642.9M764 599.3M815.5 561.5M784.5 556.5M746.7 579.1M853.6 664.6M767.5 569.7M775.8 594.2M766.4 589.7M767.4 622.7M793.3 577.6M752.2 536.8M842.3 567M755.2 585.2M747.9 551.7M763.4 588M864.2 686.2M793.4 527.8M819.5 536.3M778.1 527.4M801.9 527.1M819.7 543.8M782.1 522.9M818.2 532.9M838.5 548.3M871.8 565.5M801.4 540.6M855.4 558.9M866.3 558.9M838.6 545.9M838.4 544.8M836.3 543.6M812.9 542.8M787.8 537.4M828.3 547.1M897.9 641.5M941.1 772.5M914.6 712.9M901.9 732.1M897.1 643.8M911.9 731M930.2 763M922.6 744M919.3 774.1M921.6 729.4M896.9 678.7M894.7 671.2M941.7 754.3M919.1 771.3M898.2 720.3M886.4 673.2M905.8 764.1M893.2 667.1M888.8 656.6M899.9 642.9M935.8 721.8M896.3 643.6M909.9 771.1M882 669.4M939 765.6M959.5 806.5M930.6 712.8M917.1 733.1M892.2 625.3M906.1 684.9M939.9 782.5M950.1 760.5M890.5 636.1M949.7 748.2M906.3 716.8M910.5 695.2M906.5 756.9M947.6 807.8M904.7 696.1M895.4 659.8M929.6 752.8M937.9 725.3M899.7 675.1M918.6 715.1M906.4 753M892.9 662.9M919.7 744.8M907.4 696.9M937.4 728.6M902.4 744M954.2 767.1M905 714.6M901.6 684.8M932.2 709.3M917.9 736.8M901.2 666.1M917.5 778M940.2 771.4M929.1 726.3M905.3 750.6M908.2 694.6M923.3 734.4M895.1 662.1M922.9 709.6M909.5 724.6M902.6 704.3M903.8 692.4M947.5 756.7M932.6 774.9M905.8 731.2M921.2 758.6M894.2 617.6M952 771.3M939.6 770.4M894.9 635.4M952.1 789.4M883.4 668.7M886.2 621.9M945.9 781M884.1 640.7M943 755.1M952.3 769.6M888.8 670.5M883.1 674.7M949.8 768M913 745.6M950.1 767M897.2 662M908.8 765.5M937.6 746.9M900 706.5M910.9 717.5M931.4 712.8M912.3 725.4M923.6 753.3M912.4 713.6M902.8 702.1M879.7 639.3M918 739.7M920.4 700.1M936.8 762.4M952.5 765.8M913 726.3M912.5 729.7M925.6 785.4M891.1 623.7M945.4 800.3M931.4 757.2M938 754.7M912.2 770.6M907.5 692M900.3 728.6M895.9 644.2M909.9 754.8M894.6 704.6M944.4 776.2M883.2 633.2M943.3 739.1M922.5 726.7M927.2 762M880.3 659.3M924.6 766.1M929.5 785M919 715.9M898.5 662.8M906.9 680.5M933.1 736.5M895.6 690.3M924.3 770.7M913.8 760.7M914 752.3M940.3 762.7M909.7 726.4M890.9 652.1M921.6 698.9M943.7 794.3M932.4 789.8M884.3 621.3M908.6 741.6M903.5 724.9M915.4 760.7M906.5 734.9M899 662.1M904.1 765.2M879.3 645.6M894 704M923.6 733.6M891.4 631.5M936.9 796.7M922.3 703.1M952.3 782.4M916.6 776.7M947.6 794.5M897.5 631.2M918.9 723.9M926.9 764.9M919.6 709.7M923 776.4M934.4 724.4M894.6 672.7M932.7 794.8M936.2 728.6M888.8 627.8M938.2 718.9M936.8 783.2M888.1 675.8M915.4 752.3M944.1 786.9M926.4 716.7M896.4 618.8M912.3 756.7M944.2 735.1M947.4 751.5M897.8 645.3M896.6 673.7M948.6 767.1M913 728.9M914.5 728M919.1 732.8M909.3 751.6M943.9 735.5M897.8 636.6M939.3 746M903.2 737M882.1 642.8M890.7 654.8M934.8 734.3M915.9 776.3M889.4 623.9M886.5 676.7M896.6 690.9M893.2 659.8M915.8 717.2M949.3 748.1M883.6 621.4M910.8 696.1M949 787.6M919.1 771.7M916.6 735.6M947.3 762.2M921.9 774.8M944.1 726.3M926.6 749.1M903.2 737.9M924 750M883.6 630M928.9 717.7M884.2 633.1M897.6 623.7M910.4 739.9M998.7 793.2M998.4 789.2M992.6 873.1M950.1 812.8M991.3 803.8M976.5 857.6M985.4 826M995 804.4M979.6 861.2M984.9 918.8M964.1 822.7M957 785.7M977.3 786.5M976.7 814.7M1000.2 789.6M979.3 858.3M963.8 820.9M977.6 860.3M992.8 869.2M990.3 799.4M992.8 822.3M1006.8 803.1M979 802.7M973.8 838M963 799.4M998.5 814.5M980.5 832.7M991.7 851.1M977.7 887.2M962.3 828.2M951.7 828.3M980 814.8M939.7 794.6M973.9 815.7M979.8 787.9M948.5 793.8M986.9 886.9M999.3 795.3M1005.9 794M977.5 882.8M977.3 852.7M939.5 799.9M977.3 890.2M999.3 820.1M971.8 814.1M960.5 842.3M949.7 802.2M990 796.4M967.4 844.7M984 806.3M966.9 816.7M986.2 823.5M968.1 858.5M962 810.8M991.9 802.3M977.1 787.8M994 815M972.3 873.2M977.2 863.7M992.3 875.8M975.3 840.9M996.5 838.9M945.3 789.5M996.5 807M999 830.9M981.3 829.6M982.7 909.4M993.5 865.2M998.4 805M985.1 844.8M992.4 794.8M989.4 894.4M955.6 799.2M1006 801.2M1005.3 794.5M990.5 827.7M959.6 810.3M949.8 825.1M993.2 790.9M978.7 851.2M983.8 885.1M965.6 840.5M950.8 787.5M1001.6 826.9M955.7 826.3M978.7 879.7M988.3 840.6M978 789.4M996.4 824.4M946.4 814.4M978.9 821.7M973.2 824.6M974.5 812.7M975.5 874.7M957.8 788.5M779 695.9M800 702.9M782 678.9M799 684.4M790 669.4M845.4 671.9M856.7 684.4M869.4 695.8M869.4 704.3M880.7 721.3M875 728.3M812 675.4M830 680.4M944.9 655.2M953.6 690.4M945.5 680.6M942.7 661.9M949.4 694.2M946.9 681.2M948.1 688.1M944 665.2M947 659.8M950.2 690.1M946.4 657M950.6 677.4M948.4 661M944.8 664.3M945.8 693.9M948 691.4M946.8 662.7M948.5 668.7M947.8 669.7M950.7 661.9M947.7 663.3M948.3 694.1M944.2 657.3M948.9 677.9M951.4 682.3M982.5 689.9M969 675M979.4 693.3M972 700.7M979.8 700.2M977 696M979.9 680.3M979.9 670.1M976.1 696.1M971.3 682.2M969.9 674.5M984.5 699.3M979.6 666.1M977 660.2M983.6 683.7M982.8 672.8M982.1 661.1M968.6 686.6M978.9 694.9M979.7 669.4M984.4 693.2M975.1 696.3M982.7 661.5M971.5 685.3M974.1 681.3M978.5 764.1M989.1 756.3M979.3 781.6M973 714.1M971.9 770.7M973.3 767.5M986.4 759.2M978.7 728.6M987.5 720.5M979.8 725.6M977.8 772.9M980.8 743.8M986.8 705.6M976.2 771.4M979.9 717.6M971.4 740.2M972.4 759.3M980.4 750.2M990.3 711.8M986.9 740.2M971.5 761.9M977.8 766.6M991.9 702.8M970.8 749.9M984.1 741.6M989.2 759.2M984.9 736.4M987.5 761.4M973.3 717.5M984.6 765.8M1043.8 699.1M1035.3 712.4M1017.7 707.4M1039.6 714.6M1033.5 749.6M1046.6 723.3M1031.9 750.2M1038 753.2M1030.9 756M1004.8 723.3M1019.4 684M1012.8 727.5M1004.5 717.9M1017.4 727.3M1014.5 695.1M1014.3 749.7M1011.3 716.1M1010.3 733M1018.4 699M1027.9 684.9M1039.5 741.9M1032.3 721.2M1011.5 708.7M1030.4 725.9M1016.7 721.9M1025.6 756.7M1037 703.2M1011 697.4M1040.9 751.7M1012.7 717.1M1009.2 728.4M1013 712.5M1018.9 738.2M1009.2 719.4M1034.6 709.4M1010.4 724.8M1030.7 713.8M1021.5 754.2M1035.4 747.6M1028.8 711.8M1039.8 726.7M1024 726.6M1024.5 721.1M1020.3 706.5M1040.2 735.8M1038.8 701M1036.9 738.2M1021.9 719M1010.9 728.2M1027.5 705.8M1031 715.7M1020.3 717.8M1014.3 715.7M1027.6 690.3M1016 747.8M1030.2 706.3M1008.1 752.8M1026.5 683.5M1029.4 723.3M1021.5 726.3M1042.6 693.3M1008.9 728.4M1028.5 740.4M1036.4 747M1044.6 733.6M1020.1 703.4M1038.1 724.6M1024.3 739.4M1021.7 740.1M1028 749.7M1022.1 715.6M1048.7 734M1015.5 753M1028.8 702.2M1025 699.7M1033 718.2M1018.8 724.2M1032.4 743.3M1028.7 685.3M1029.5 683.9M1024.1 736.9M1011.9 705.8M1042.5 697.1M1009.7 734M1026.8 707.9M1025 708.3M1013.6 722.8M1003.8 722.3M1014.6 691.7M1031.7 708.5M1014.6 740.6M1021.2 687.8M1009.5 701.5M1024 734M1035.1 703.1M1015 750.1M1022.5 705.2M1034.1 693.2M1003.5 728.4M1038.7 722.6M1025.3 741.9M1023.2 723.1M1043.2 693.1M1028.6 720M1035.1 747.3M1033.2 710.9M1030.4 742.5M1006.9 728.4M1016.1 721.4M1027.6 729.5M1020.5 694.9M1008.2 707.8M1046.8 727.3M1019.7 733M1024.8 685.3M1022.9 750.2M1019.9 696M1037.7 697.3M1022.9 734.7M1035.7 687.2M1012.6 745.5M1026.4 743.5M1025 723.4M1014 716.1M1020.2 751.5M1044.2 709.5M1039.9 697.5M1025.9 751.4M1045.5 701M1033.2 696.3M1041.5 728.5M1040.8 749.5M1026.8 682.9M1042.8 755M1044.2 707.6M1022.6 741.8M1031.4 725.7M1027.8 695.1M1014.2 737.4M1038.7 705.8M1021.7 738.9M1046.5 724.7M1004.5 734.9M1010.1 724.8M1017.5 755.3M1008.3 741.9M1046.8 746.3M1008.5 741.5M1027 702.5M1041 733.4M1035.4 746.3M1046.5 734.8M1013.2 726.2M1041.9 697.2M1015.9 715.2M1031.4 712.7M1044.5 744.7M1015.4 736.4M1023.3 705.8M1035.4 701.8M1033.9 724.8M1022.8 706.3M1042.7 737.2M1010.2 742M1022 731.9M1031.6 741.6M1042.5 704.4M1037.5 754.2M1035.6 744M1039.2 698.5M1025.9 724.8M1015.5 734.3M1032 681M1045.3 703.1M1015.4 755.8M1047 736.2M1017.2 694.9M1043.3 713.7M1028 698.5M1016.3 751.5M1034.5 737.6M1013.4 717.7M1014.1 725.8M1025.9 755.7M1039.7 715.1M1018.5 695.8M1040.3 722.8M1041.6 686M1036.7 689.6M1014.1 718.7M1005.1 727.3M1030.5 693M1011.6 742.1M1045.9 747.3M1032.4 730.5M1044.2 728M1028.9 690.4M1013.9 730.6M1034.3 704.9M1023.1 683.6M1009.4 722.2M1006.6 735.3M1023.9 689.3M1031.7 731.8M1016.1 722.8M1034.9 688.8M1045.4 711.2M1030.3 706.6M1011.4 699.7M1038.6 738.7M1016.3 701.5M1023.4 714.2M1004.4 732.5M1008.6 746.7M1005.7 751.6M1039.7 701.7M1036.7 754.3M1043.6 695.9M1010.7 710.7M1021.3 696.4M1005.8 746.6M1036.6 697.3M1038.4 690.7M1025.9 755.4M1023.5 714M1013.4 702.1M1027.7 731.5M1045 745.7M1033.7 755.6M1019.4 700.5M1027.1 767.5M1037.9 775.3M1028.4 793M1035.3 797.5M1027.5 802.3M1039 769.4M1010.1 767.5M1021.3 784.8M1009.5 799.5M1017.8 787.9M1015.4 766.2M1007.4 763.8M1011.8 782.8M1009.3 788.6M1016.6 763.5M1018.3 763.4M1031.2 796.9M1014 787.5M1015.8 771.6M1025.7 792.3M1039.7 779.3M1019.8 763.6M1015 786.5M1043.6 764M1036.6 779.5M1027 776.6M1019.6 760.8M1014.5 795.8M1033.4 781.3M1009.4 785.8M1020.7 775.4M1009.3 780M1019.3 780.9M1040.3 786.7M1034.8 796.7M1027.4 768.8M1018.7 790.2M1032.7 802.6M1010.8 776.5M1023.7 793.9M1052 690.5M1058 731M1054.2 702M1058.1 727.3M1055.3 702.9M1053.3 739.4M1057.3 733.3M1053.2 694.2M1058.4 702.4M1055.5 676M1057.8 724.2M1054.1 707.3M1057.1 703.3M1057 677.8M1054.6 710.3M1057.1 731.3M1057.5 718.5M1052.5 698.9M1056 717.8M1059.7 725.3M1055.1 699.3M1052.8 673.2M1057.4 729.8M1059.4 699.8M1052.1 737.8M1055.6 703.6M1052.1 732.3M1055.3 715.6M1058.7 726.5M1059.5 690.2M1059.3 679.2M1057.5 727.6M1056.3 691M1056 699.6M1058.5 684.5M1054 723.3M1055 733.3M1056.6 684.4M1054.1 722.1M1052.2 698.3M1068.7 664.4M1066.3 655.4M1067 657.2M1071 703.8M1072.6 684.7M1080.6 685.3M1073.9 660.2M1069 707.4M1074.5 650.3M1071.4 653M1068.4 694M1071.7 699.9M1072.6 735.6M1064.7 741.8M1063.8 814M1065.4 779.5M1064.9 712.4M1066 774.1M1076.5 763.2M1062.8 722.9M1072.6 738.5M1071.6 732.3M1070.5 754.8M1061 731.1M1076.1 756M1068.4 783.3M1066 789M1060.4 730.6M1078.6 780.9M1072.1 712.4M1075.5 752.1M1060.7 716.3M1060.3 750.5M1072.6 761.9M1071.5 778.7M1066.7 775.8M1066.9 738.6M1062.7 721.3M1071.9 782.5M1064.1 759.9M1076.1 752.4M1074.2 787.4M1062.3 816.6M1076.9 804.7M1062.9 757.8M1075.2 738.6M1062.6 795.8M1080.4 722.8M1080.2 781M1064.5 740.1M1078 787.6M1063.4 777.5M1063.5 768.1M1069.1 749.4M1064.7 769.9M1081.3 772.3M1067.5 722.2M1079.3 719.6M1068.5 761.8M1061.5 751.1M1075.3 718.2M1068.4 711M1068.7 749.2M1080.2 711.7M1071.2 771.6M1071.5 813.6M1075.8 781M1061.3 727.3M1075.8 807.2M1064 777.3M1080.5 739.1M1060.4 760.3M1066.8 749.5M1062.7 791.5M1062 798.4M1072.8 730.6M1074.7 711.8M1080.7 800.1M1081 712.2M1064 810.2M1064 760.6M1062.8 810M1067.4 779.5M1060.7 766M1077.4 735.8M1066.8 728.1M1071.2 721.4M1081.1 741.5M1069.7 741M1069.8 742.7M1081.6 740.7M1066 810.1M1078.3 733M1076.7 729.4M1060.3 799.7M1077.7 760.7M1075.6 750.2M1061.2 756M1075.2 795M1068.9 816.5M1071.1 732.3M1061.5 712.4M1086.4 853.3M1093.5 829.2M1090.1 832.5M1094.3 886.2M1089 809.2M1073.2 839.6M1090.4 794.1M1081.9 849M1091.2 726.4M1083 788M1089 877.8M1090.8 818.9M1082.1 914.6M1086.3 921.2M1086.5 918.6M1083.3 785.7M1081.1 780.5M1085.7 773.9M1091.5 742.2M1085.7 731M1085.4 761.8M1084.3 929M1087.6 826.9M1089.7 817.8M1086.9 775.6M1090.2 753.9M1081 834.1M1086.6 819.8M1083.8 772.7M1085.7 800.1M1082.5 862.5M1087.5 900.1M1079.9 742.2M1088.7 904.9M1091.1 739.5M1088.3 781.4M1091.5 873.8M1090.1 816.6M1082.7 768.2M1081.4 796.5M1084.8 908.2M1087.9 877.7M1086.3 900.4M1094.6 744.1M1086.6 914.8M1080.1 803.4M1084.9 744M1080.4 927.9M1083.2 870.3M1082.4 880.8M1081.3 887.1M1086.8 786.9M1083 808.9M1091.2 806.3M1086.9 894M1082.3 890.2M1080.9 842.5M1087 870.7M1085.9 864.8M1081.4 813.9M1092.5 790.6M1088.8 836.3M1086.2 827M1092.7 791M1086.4 888.7M1088.5 880.1M1089.5 869.7M1081.6 810.6M1087.4 789.8M1079.9 825.2M1083.6 852.4M1083.6 860.5M1086.3 908.4M1084 832M1086.9 907.1M1079.8 846.9M1083.6 851.4M1081.7 877.2M1080.1 870.2M1084.5 900.4M1092 830.9M1083.1 890.6M1086.1 848.3M1081.3 884.5M1085 860.2M1081.6 872M1089.1 831.2M1085.7 878.1M1079.7 852.7M1082.3 823M1081.9 892.5M1088.3 811.2M1085.6 884.9M1092.1 853.6M1078.4 800.2M1089.4 893.9M1082.1 841.1M1087.4 888.9M1081.7 888.5M1084.1 787.6M1085.8 811.2M1082.2 856.9M1089.3 798.6M1082.7 864.1M1081.2 810.8M1088 794.6M1082.3 842.1M1081.6 850M1081.3 797.6M1084.7 885.8M1111.7 886.8M1116.6 901.6M1115.2 879.2M1097.3 894.8M1114.2 900.9M1103.3 853.8M1115.6 896.5M1096.9 901.9M1115.6 859.3M1106.3 861.6M1101.4 804.9M1092.6 761.7M1097.2 831.7M1099.7 803.2M1086.6 782.3M1088.2 770.7M1094.7 746M1096.1 809.3M1096.5 768.3M1103.8 812.3M1093.3 748.9M1106.1 751.7M1107.7 790M1089.4 793.9M1104.5 773.8M1101.3 809.7M1090 753M1089.6 829M1106.6 754.7M1103.6 813.3M1087 820.2M1087 746M1102.4 754.9M1102.8 761.8M1103.3 810.9M1100.2 795.4M1094.3 803.9M1092 802.5M1102.2 801.1M1092.2 814M1094.6 773.8M1105.9 749.3M1088 756.2M1096.1 828.4M1105.1 821.6M1102.6 785.8M1102.9 753.5M1100.3 780.7M1095.5 796.4M1094.9 738.6M1106.2 776.3M1100.3 742.1M1089.4 776.2M1093.1 781.5M1103.9 799M1086.1 745.3M1102.5 816.1M1091.1 801.8M1101.1 793.2M1106 778.9M1089.8 774.5M1100.3 811.5M1094.4 764.6M1097.1 738M1099.1 829.2M1092.5 811.7M1104.1 773.9M1107.3 834M1086.6 747.9M1089 817.7M1095.1 784.8M1102.3 775.7M1095.7 738.5M1098.5 786.2M1094.7 740.2M1102.8 792.7M1092.1 812.9M1108 734.3M1103.9 738.5M1107.8 790.7M1094.6 754.1M1091.5 815M1098.4 790.9M1089.5 821.1M1093.7 773.3M1099.7 758.2M1092 769M1086.3 779.3M1096.5 820.1M1090.5 818.8M1101.4 759.4M1101.1 810M1087.7 767.9M1088.8 786.5M1086 765.8M1102 812.7M1103.6 738.1M1096.6 825.5M1094 788.1M1087.8 746.4M1100 815.2M1098.6 742.2M1101.2 737.2M1103.2 736.6M1093 796.3M1106.7 777.2M1096.5 818.8M1100.8 827.3M1105.6 795.6M1104.7 769M1086.1 785.7M1107.6 762.8M1097.5 818.1M1104.5 820.5M1103.7 793.2M1086.7 745.9M1098.9 764.4M1097.6 789.6M1100.2 826.9M1105.1 740.2M1095.1 786.9M1106.4 771.2M1089.1 771.3M1091.6 789.8M1097.1 816.4M1092.6 807.3M1104.4 760M1097.7 773.1M1100.8 786M1107.5 828M1093.7 768.3M1094.6 809.1M1100.8 789.9M1090.3 757.1M1097.7 802.7M1107.4 759.6M1090 821.6M1105.2 782.8M1104.4 825.6M1103.9 788.8M1127.6 828.2M1135.3 815M1121 764.8M1120.1 785.6M1145.4 834.2M1136.5 800.3M1126.5 780.7M1138.9 812.9M1118.5 754.7M1127.7 786.7M1133.9 726.3M1115.2 796.8M1136.1 725M1144.8 830.2M1120.5 767.4M1130.9 832.6M1119 740.4M1141 756.7M1114.3 751.5M1108.6 831.5M1126.5 825.8M1142.7 749.6M1129.5 725.7M1131.5 765.6M1144.4 826.4M1144.2 768M1134.2 727.8M1143.1 718.1M1122.6 837.2M1142.9 829.8M1114.8 798.2M1139.1 794.4M1119.8 799.6M1129.9 833.1M1144.6 786.9M1141.2 791.8M1123.2 785.8M1108.7 788.4M1130 786.9M1129.5 774.8M1136.2 746.2M1135.1 742M1136.7 742.8M1128.6 785.4M1115.6 750.7M1137.1 749.2M1146.5 791.2M1129.3 821.4M1136.2 719.1M1138.3 734.9M1113.6 807.7M1141.7 736.2M1109.7 754.3M1138.3 767.5M1124.9 818.8M1124.2 802.4M1124.9 813.5M1123.4 747.7M1132.6 800.5M1136.8 754.8M1147.1 824.3M1114.9 727.3M1123.8 795.8M1128.7 802M1115.6 786.5M1126.2 807.7M1123.8 768.4M1123.9 808.2M1136.9 748M1137.9 774.1M1132.5 742.3M1117.5 728.5M1140.5 833.5M1137.2 811.8M1116.4 737.6M1116.5 786.5M1131.9 730.6M1122.2 816.6M1130.9 765.5M1147.4 799.9M1139.9 767.8M1127.6 715.7M1130.5 824.7M1137.3 784.2M1118.2 776.8M1142.7 756.9M1122.9 746.9M1131.4 732M1140 824.1M1129.3 723.2M1149 775.6M1116.6 806.2M1112 813.4M1122.4 732.9M1113.7 767M1124.5 772.1M1146.7 838.8M1141.8 761.9M1137 776.5M1126.9 730.5M1124.5 729.2M1132 793M1120.5 831.9M1108.9 775.2M1149.3 793.9M1123.9 812.1M1116.5 754.9M1126.9 713.6M1118.9 748.9M1130.6 783.6M1126.9 771.4M1137.2 810.6M1148.1 767.5M1113.4 738.2M1114.6 789.6M1149.4 731.5M1133.7 755.3M1138.8 721.8M1122.1 808.6M1131.8 793.8M1131.9 805.9M1134.9 741.8M1116.5 763.6M1113.4 729.8M1139 741.6M1131.4 769.7M1147.3 805.6M1122.4 734.2M1122.5 822.7M1123.1 772.6M1133.7 737.5M1132.5 782.9M1126.4 781.3M1127 737.6M1132.3 759.2M1133.9 824M1143.9 773.2M1135.6 743.4M1125.4 773.2M1148.7 842.6M1147.9 747.2M1134.3 801.5M1142.5 841.2M1124.2 776M1132.1 821.4M1139.6 759.8M1127 779.9M1131.6 749.8M1149.5 818.9M1147.7 792.7M1116.4 723.7M1121.2 727.5M1136 802.7M1143.8 779.9M1146.6 781.2M1138.1 768.4M1149.9 761.8M1138 837.6M1147.4 757M1112.2 819.1M1119.7 717.8M1147.3 780.1M1123.7 752.8M1120.8 809.6M1120.7 768.6M1129.3 745.3M1147.4 754.1M1131.2 715.6M1143.5 766.1M1123.6 725.4M1122.7 769.9M1133.5 743.9M1120.2 817.3M1122.9 809.2M1134.6 815.4M1108.6 760.6M1131.7 826.6M1110.8 830.6M1136.1 809.6M1108.2 826.3M1130.8 749M1120 826.3M1110.6 767.1M1138.8 720.7M1115.8 769.8M1148.3 814.2M1116.5 729.6M1138.9 809.8M1149.2 837M1129.5 726.7M1124.5 718.4M1132.1 811.5M1122.5 727M1114.1 807.3M1122.1 774.3M1126.1 787.6M1129.1 763.5M1129.4 819.5M1149.1 774.4M1138.3 738M1111.5 804.5M1131.2 768.8M1140.1 763.7M1138.4 736.7M1124.3 787.6M1114.6 754.1M1114.2 726.4M1136.8 749.4M1146.7 723.6M1141.1 732.1M1116.1 808.5M1113.5 803.1M1138.6 824.3M1144.8 786.9M1137.4 756.4M1119.7 812.1M1110.8 822.2M1128.8 733.1M1118.3 743.8M1109.4 742.6M1148.6 766.4M1146.4 825.9M1113 784.2M1128.3 721.6M1138.4 753.9M1135.3 810.1M1138.1 801M1121 795M1138 777.3M1135.9 828.2M1117.1 729.2M1126.4 824.8M1144.9 793.9M1141.1 738M1113.5 789.7M1133.6 802M1116.5 822.1M1113.3 806.3M1117.7 830.8M1142.7 832.7M1127.1 826.9M1139.9 838.4M1129.7 819.1M1113.3 730.4M1110.5 729.1M1117 793.3M1133.2 831.4M1113.3 812.3M1128.7 791.2M1131.1 837M1130.2 789M1135.3 741.3M1143.2 740.4M1125.4 767.8M1145 819.7M1128.3 719.7M1140.4 800.7M1120.7 736.5M1147.2 834.2M1111.9 796.7M1144.9 790.8M1130.1 748.4M1142.4 777.1M1139.2 778.6M1133.8 797.8M1139.3 744.2M1135.7 746.8M1112.4 772.4M1134.9 819.2M1134.9 753.7M1118.2 800.9M1121 835.6M1131.4 789.9M1142 841.5M1129.7 729.4M1144.9 820.8M1115.8 743.8M1148.3 768.2M1136.5 769.9M1128.1 817.5M1131.6 745.8M1131.6 787.8M1128.3 729.1M1145.9 760.7M1122.5 722.2M1139.9 790.7M1141.9 820.5M1135.4 728.3M1127.9 811.8M1124.6 775.4M1113.4 749.5M1130 818.6M1110.3 810.7M1123.1 765.6M1110.8 779.6M1141.7 809.7M1112.4 834M1136 761.2M1130.2 797.6M1142.9 798.3M1129.7 808.3M1126.4 760.8M1143.1 822.4M1142 821.6M1117.6 812.8M1142.9 760.4M1116 739.5M1117.8 773.7M1149.6 785.8M1140.2 770.3M1131.1 767.1M1113.6 745.4M1116.5 764.2M1130 784M1141.7 715.8M1129.1 801.6M1131.2 737.7M1126.6 826.4M1114 772.6M1142.9 759.4M1124.3 793.3M1144.7 801.9M1139.4 722.1M1146.1 767.4M1132.1 780.7M1134.5 734.2M1123.5 766M1137.1 723.8M1112.2 762.9M1119.1 743M1164.6 826.9M1151 771.6M1161.4 759.9M1162.8 806.9M1156.7 832.5M1154.7 835.3M1166.4 830.9M1165.9 818.5M1170.4 815.2M1154.1 790.5M1161 804.4M1168.8 766.1M1169.4 782.4M1167.1 830.8M1150.1 745.1M1168.4 798M1162.7 822M1164.7 841.7M1154.7 760.8M1157 814.3M1167.6 802.8M1157.5 823.4M1157.3 829.4M1163.3 809.6M1155.8 808.9M1169.6 838.7M1171.8 790M1172.9 840.1M1169.4 784.9M1157.2 808.5M1159.7 783.7M1152.3 832M1155.6 840.7M1163.1 816.5M1160.7 809M1160.7 828.7M1156.4 785.6M1170 828.3M1172.9 826.5M1160.2 794.6M1159.3 790.3M1168.4 784.3M1156.1 795.8M1151.4 758.7M1151.5 766.1M1162.7 770.8M1154.7 775.7M1163.5 797.5M1175.6 837.2M1172.1 777.5M1169.4 779.4M1171.9 763.5M1158.4 750.3M1164.1 828.8M1160.5 823.9M1158.6 840.4M1155.3 754.1M1163.9 821.2M1170.7 797.9M1160.7 817.8M1154.6 830.4M1151.7 823.9M1170.3 797.7M1175.9 778.1M1154.7 760.9M1155.7 818M1153.9 822.2M1164 796.9M1159.5 821.1M1151.8 812.9M1166.1 800M1166.4 800.5M1161.9 806.8M1156.9 757.6M1153.5 821.1M1154.2 790M1154 788M1166.3 816.9M1169.8 814.3M1150.3 763.5M1166.1 803.5M1162.8 770.2M1165.6 770.2M1164.2 837.2M1162.1 755.7M1168.9 830.8M1171.4 786.4M1151.4 760.3M1175.2 825.2M1151.8 814.2M1169.7 828.6M1163.4 789M1150.1 747M1163.8 772.6M1150.9 802.5M1160 789M1156.5 761.6M1157.8 784.7M1167.6 825.4M1156.5 839M1157.9 831.8M1151 760.9M1167 827.7M1159.7 805.3M1166.9 824.7M1154.1 837.8M1173.2 814.1M1160.6 776.2M1153.6 756.5M1163.9 777.5M1156.1 804.5M1163.3 836M1169.2 767.1M1160.2 842.8M1164.5 836.8M1159.6 841.8M1169.2 806M1175 781.2M1168.4 825.6M1164.6 770.2M1164.4 800.4M1160.1 828.7M1168.9 793.7M1162.1 767.3M1173.6 823.3M1166.2 774.5M1172.4 833.1M1175 781.2M1163.6 765.2M1161.5 827.7M1167.2 811.5M1170.1 783.1M1160.6 748.9M1157.8 842.2M1169 800M1170.5 768.3M1167.6 841.4M1165.7 798.4M1159.8 840.4M1151.3 839.8M1175.9 792.5M1158.6 761.6M1168.3 825.2M1168.1 815.5M1150.9 764.5M1155.8 806M1160.6 779.1M1151.3 793.5M1172 771.3M1173 784.5M1144.5 879.8M1162.7 823.5M1153.9 826.5M1157.5 885.4M1156.5 834.5M1169.4 842.8M1156.9 882.6M1147.5 873.3M1167.3 849.8M1152.3 866.1M1154.1 889.8M1156.3 904.1M1156.8 869.9M1152.8 848.3M1171.5 831M1158.7 905.4M1147.9 840.4M1158 837.4M1162.9 838.1M1143.8 853.8M1141.6 841.1M1155.5 843.5M1143.2 883.1M1158.6 863.5M1151.4 847.5M1156.8 887.2M1157.8 907M1146.1 894.7M1149.7 836.5M1156.2 846M1158.4 902.8M1154.4 877.1M1150 895.6M1150.2 860.5M1146 833.2M1157.9 858.5M1165.3 845.6M1150.5 839M1158 871.8M1143.2 865.1M1150.6 907.5M1148.2 842.8M1158.8 872.4M1163 829.1M1168.5 833.1M1141.4 890.6M1147.8 859M1144.8 842.7M1148.8 853.2M1153.6 833.1M1155.2 841.6M1156.9 860.5M1159.7 868.7M1170.8 838.6M1147.2 847.1M1166.6 851M1147.5 881.4M1147.5 909.3M1159.1 858.9M1145 867.9M1143.9 877.5M1140.9 855.4M1155.5 855.8M1150.4 857.6M1154.2 841M1158.3 854.2M1162.1 829M1163.8 859.2M1155.2 846M1141.9 903.6M1159.6 844.5M1168.9 830.4M1157.8 823.6M1143.4 886.1M1147.5 850.4M1158.7 912.7M1159 879.7M1158.7 903.5M1154.3 902.8M1151.4 890.4M1157.9 879.6M1153.7 893.9M1157.7 890.4M1157.2 873.7M1155.4 898.1M1152.7 897.1M1152.1 892.4M1151.3 898.7M1151.6 881.8M1159.8 874.3M1216.9 672.7M1228.3 659.1M1230.4 643.9M1221.4 659.7M1225.2 662.1M1225.2 663.7M1229.2 649M1225.1 651M1231 669.3M1230.8 654.7M1217 674.4M1222.1 662.6M1227.9 664.6M1226.3 666.2M1221 676.4M1224.5 651.4M1220.8 662.8M1230.7 660.1M1225.4 673.2M1218.7 669.4M1231.1 644.4M1229.7 662.6M1222.9 674.1M1216.1 676.8M1233.1 655M1229.4 643.4M1219.6 671.3M1217.4 645.9M1227.6 661.7M1220.4 650.5M1236 710.5M1222.5 680.8M1235.9 693.6M1215.9 697.6M1228.2 691.6M1232.4 681.1M1222.5 689.1M1210.6 709.2M1230.9 702.6M1214.9 696.7M1217.8 690.7M1204.7 710.8M1205.2 705.5M1209.4 694.8M1219.4 689.6M1210.3 679.4M1212.3 680.6M1231.7 682.7M1209.1 679.9M1226.9 693.7M1207 702.1M1233.4 687.7M1220.8 710M1214.9 712.4M1221.6 688.4M1204.3 699.9M1228.2 706.7M1232.6 687.2M1216.3 697.7M1224.8 679.9M1207.8 687.2M1210.2 710.6M1221 697.5M1227.5 694.2M1211.2 685.8M1211.3 683.1M1206.1 705.2M1203 708.8M1222.9 685.3M1223.4 680.1M1228.4 695.7M1218.8 696.8M1215.7 691.9M1238.4 703.5M1210.1 691.5M1228.7 689.5M1238.5 710.4M1223.7 703.9M1239.1 708.3M1233.4 688.9M1211.6 709.2M1215.5 710.5M1220.8 702.3M1234.7 690M1220.1 689.5M1232.1 689.2M1228 709.6M1215 705.2M1234.4 687.4M1218.8 679.2M1225.9 682.9M1234 700.7M1234.1 683.2M1213.9 696.5M1226.4 710.4M1221.7 679.9M1228.9 685M1233.8 702.9M1213 697.3M1211.1 695.1M1210.3 708.9M1218.7 690.8M1230.1 684.3M1222.1 709M1230.7 690.5M1209.5 703.7M1213.1 690.5M1203.7 703.5M1234.5 696M1206.5 699.3M1206.2 703M1230.3 706.7M1208 703.6M1231.4 702.4M1229.9 691.1M1228.6 704.8M1235.6 697.9M1208 680.1M1232.9 691.4M1208.5 708.4M1236.3 691.1M1229.1 701.2M1213.8 685M1220.5 685.5M1224.5 689.4M1234.3 698.4M1216.6 691.9M1208.3 702.9M1218.4 687.9M1224.4 688.2M1215.1 725.1M1197 747.3M1205.9 731M1200.7 743.7M1199.4 713.6M1228.3 729.5M1227.8 716M1197.7 742.6M1230.4 722.5M1210.3 726.9M1199.9 731.1M1228.8 724.4M1222.8 723.7M1214.5 718.7M1220.8 723.4M1207.7 748.9M1239.6 748.4M1198.6 730.9M1224 736.4M1203.8 741.5M1201.9 716.9M1200.8 727.3M1236.5 721.7M1211.7 727.1M1200.6 729M1231.5 744.7M1217.6 714.1M1233.4 747.5M1200.1 740M1224.8 729.4M1203.5 731.7M1240.8 734.7M1232.3 747.8M1241.4 713.2M1218.8 729.5M1225.6 743.9M1232.2 714.8M1203.5 735.9M1208.7 721.6M1219.5 721.1M1198.4 725.2M1235 746.6M1218.5 746.3M1235.2 724.4M1227.6 730.5M1200.6 744.3M1202.4 737.4M1218.1 732.6M1235.5 713.6M1239.6 724.3M1234.6 718.6M1236.3 736.4M1234 738.8M1217.2 749.2M1235.8 713.8M1198.6 726M1226.1 713.1M1213.2 734.4M1209.4 740.9M1198 723.9M1231.7 739.7M1204.2 721.9M1227.8 716.4M1212.9 735.4M1226.8 731.4M1227.6 736.8M1217.5 735.5M1228.3 740.6M1219.7 723.2M1224.1 722.2M1206.5 731M1222.2 740.1M1200.8 724.5M1234.2 734.7M1199.2 737.5M1197.1 745.9M1225.4 731.9M1239.4 729.5M1198.9 739.5M1235.5 748.6M1208.9 731.4M1210.2 746.6M1219.2 740.7M1205.7 746.6M1219.7 733.9M1229.9 719.9M1229.7 743.7M1199.8 741.5M1213.7 747.6M1240.4 739.9M1232.2 730.6M1224.7 727.6M1232.8 742.7M1219.8 742.6M1238.1 733.6M1226.7 738.3M1226.9 712.4M1241.5 727.3M1199.5 719.5M1219.1 736.4M1234.7 725.5M1223.4 738.7M1232.5 749.6M1202.2 722.4M1203.5 735.1M1222.8 726.3M1208.4 735.4M1232 734.2M1231.7 721.1M1231.3 733.4M1203.4 730M1222.7 717M1230.3 740.8M1216.3 743.4M1224.7 735.2M1200.7 717.6M1231.3 718.7M1226.7 739.2M1229.7 721.6M1207 731.4M1198.4 747.8M1199.2 741.7M1226.7 736.9M1227.1 721.7M1221.2 730.8M1221.3 744.4M1218.8 713.1M1235.1 725.9M1240.5 722.1M1228.7 744.1M1216.3 741.7M1227.7 734.5M1225.2 713.3M1202.7 728.4M1233.1 712.7M1198.9 713.9M1235.8 747M1197.6 730.2M1220.6 737.9M1217.3 713.7M1219.8 729.1M1204.4 744.2M1224 737M1208.4 713.3M1211.7 748.5M1236 720.9M1207.5 744.1M1234.7 712M1226.2 729.7M1235.8 738.5M1194.4 815.2M1194.2 786.1M1200 790.7M1205.3 804.7M1201.1 781.6M1204 755M1204.2 832.7M1200.5 759.6M1209.3 773.2M1205 825.8M1203.1 759.6M1203 804.2M1201.2 755.3M1203.4 754.7M1207.2 778.5M1202.3 781.3M1210.1 817.2M1204.9 769.7M1200 763.3M1199.8 833.3M1206.1 798M1212 808.1M1202.2 768.8M1197.9 773.9M1207 804.2M1202.4 805.1M1193.7 783.4M1212.6 772.4M1200.9 763.9M1211.6 769.6M1207.3 814.5M1193.7 824.1M1203.1 753.5M1209.6 829.4M1212.5 782.5M1205.4 817.2M1210.3 829.7M1193.2 832.7M1203.8 831.7M1204 763.1M1213.8 762.3M1198.2 759.3M1197.6 820.7M1203.7 821M1208 766.7M1199.5 766.1M1213.5 795.2M1197.7 751.8M1202 811.9M1213 772.7M1202.6 751.5M1204 791.7M1209.7 795.9M1206.5 771.3M1193.6 831.1M1203.2 761M1200.7 811.5M1192.9 818.2M1204.3 770.6M1197.3 826.5M1203.6 790.6M1209.6 832M1208.4 826.2M1198.6 804M1200.3 814.9M1195.3 756.4M1199.3 785.4M1204 833.7M1203.1 762.3M1210.4 760.7M1205.6 759.3M1205.8 789.8M1197.7 753.7M1204.4 793.4M1201.8 782.3M1210.4 765.2M1197.4 783.2M1194.6 754.5M1201.9 793.5M1198.1 766.1M1202 783.4M1211 766M1194.8 797M1203.3 795.6M1202.4 814.5M1203.5 781.4M1199 825.1M1198.6 823.6M1202.9 821.5M1213.3 759.3M1212.1 816.6M1193.7 833.5M1196.3 821.2M1208.5 769.5M1204.7 761.1M1238.6 794M1242.8 805.1M1244.8 799.7M1245.6 804.4M1237.4 753.9M1249.7 834.4M1251.9 815.5M1238.7 806.5M1235.7 805M1248.4 777M1241.3 833.5M1236.3 795.6M1240 768.2M1251.2 788.9M1249.1 817.4M1254.4 748.7M1250 750.4M1250.2 788.3M1253.2 809M1238 766.6M1251.5 756.4M1236.9 753.1M1244.4 807.4M1245 819.8M1247.9 754.1M1251 749.3M1247.8 754.4M1254.6 761.2M1252.2 778.7M1234.2 784.7M1252.8 770.3M1249 758.5M1241.4 805.2M1245.8 771.1M1236.3 772.3M1236.7 781.4M1248.6 787.7M1237.4 815.2M1245.6 825.9M1235.1 789M1243.1 814.4M1253.6 787.2M1254.5 804.8M1241.8 762.5M1239.1 821.1M1244 754.6M1249.4 814M1253.2 826.6M1241.7 769.2M1239.9 776.7M1252.9 828.5M1242.4 763.4M1242.9 824.5M1237.4 772.1M1251.2 811.3M1245.2 809.2M1247 796M1243.8 799.6M1253.8 816.5M1247.8 816.9M1251.7 812.1M1248.2 825.4M1241.9 771.4M1235.9 813.3M1240.2 802.2M1244.8 767.7M1251.4 758.7M1237 795.6M1241.6 751.9M1234.6 766.8M1245.4 822.7M1238.4 799.9M1245.2 824.9M1251.3 758.6M1253.4 756.8M1254.4 824.8M1251.4 807.8M1243.3 812.2M1250.9 749.2M1238.2 774.8M1235.9 829.3M1239 802.5M1246.6 811M1237.1 814.2M1239.1 782.2M1249.9 800.2M1246.2 773.4M1235.9 829.3M1238.2 790.3M1245.7 827.8M1240 825.5M1248.3 769.1M1238.9 812.7M1241.2 812.9M1246.7 777.8M1243.4 778.7M1238.5 783.2M1239.1 768M1249.8 796.2M1235.8 753.2M1250.6 799.2M1251 768.8M1248 803.2M1235.8 804.6M1251.8 789.5M1246.7 781.3M1247.5 819.1M1245.4 813.2M1245.4 822.8M1237.8 802.8M1186.5 739.1M1176.8 727M1177.3 766.5M1184.5 783.7M1176.8 773.4M1186 788.7M1185.9 770.8M1176.8 739.2M1184.3 756.8M1186.8 736.5M1179.1 785.2M1176.9 780.6M1185 774.2M1176.9 730.5M1180.7 740M1178.1 736.9M1177 787.1M1181.6 746.5M1186.1 734.2M1177.6 726.3M1185.5 750.7M1185.2 761.3M1179 736M1175.9 783.3M1180.3 741M1183.5 725.8M1182.7 724.2M1176.3 741.3M1184.1 761.9M1184.9 787.2M1182.7 755.2M1182.6 724.9M1176.7 776.8M1180.1 759.4M1184.9 731M1287.5 673.4M1285.8 704.2M1288.4 671.3M1286.4 688.3M1285.6 680.1M1287.7 685.7M1285.3 684.3M1287.7 671.8M1287.4 693.3M1284.2 703.9M1287.9 679.2M1286.3 704.1M1286.6 687.6M1286.8 661M1288 697M1288 679.1M1286 680.3M1285.2 677.7M1288.2 697.1M1286.1 685.6M1287.2 691.8M1286.8 662.6M1283.3 686.5M1287.7 671M1287 674.8M1286.3 679.1M1285.7 704.1M1287.6 668.1M1287.3 715.1M1286.1 711.6M1286.4 703.3M1285.7 706.7M1286.7 690.5M1286.6 669.9M1286 671.6M1286.4 709.2M1286.6 713.9M1288.7 673.7M1286.1 674.6M1285 686.8M1287.2 684.8M1288.5 702.2M1284.7 704.8M1286.8 665.4M1285.8 680.5M1285.1 700.4M1287.5 687.5M1284.6 713.8M1286.7 682.2M1287 705.1M1287.8 699M1286.8 713.9M1285.9 717.9M1285.7 696.6M1285.3 712.6M1285.1 664.2M1288.2 661.6M1286.4 679.2M1284 679.4M1286.7 697.5M1287.5 734.1M1289 799.3M1287.6 749.9M1288.3 738.9M1288 769.2M1288.9 790.9M1286.5 785.8M1288.3 783.6M1286.4 774.1M1289.1 794.9M1290.1 797M1287.2 733.8M1289 782.5M1288.6 748.1M1284.5 767.8M1290 771.8M1285.1 744.2M1287.8 764.3M1289 759.6M1286.7 770.8M1287.6 774.4M1287.4 775.5M1286.3 768.3M1289.3 764.3M1288.1 767.9M1288.2 801.3M1286.8 736.6M1288.1 797.7M1285.9 780.4M1290 784.6M1288.3 734M1290.7 764M1289.3 736.5M1288.7 750.5M1289.5 733.9M1288.5 780.9M1287.9 745.2M1289.1 738M1286.1 768.8M1286.2 755.4M1284.9 790.1M1290.4 733M1289.6 776.7M1287.1 768.8M1289.3 741.7M1289.9 739.7M1288.1 799.2M1287.1 738.8M1286 748.6M1288.6 778M1288.5 791.7M1288.3 796.7M1287.8 767.4M1285.5 798.1M1286.9 748.8M1287.6 733.4M1287.1 734M1288 735.6M1287.3 787.7M1286.9 748.3M1281.8 867.9M1280.8 852.1M1281 869.8M1281.9 830.1M1279.5 877.1M1279.1 869.2M1280.6 843.4M1279.5 852.9M1278.4 861.1M1280.2 848.5M1279.2 821.6M1279.8 825.8M1281.1 865.6M1279.6 875.2M1280.8 817.8M1280 879.9M1280.5 844.2M1279.5 879M1279.5 876.9M1280.6 845.8M1278.5 862M1281.1 846.6M1281.4 817.7M1278.6 875.8M1279.2 812.8M1280.7 868.3M1278.2 862.7M1280.4 870.9M1277.7 879.9M1281.8 872.1M1281.3 855.8M1281 879.4M1278.4 863.5M1281.8 839.2M1278.8 835.9M1279.8 873.9M1279.3 860.6M1280.4 826.3M1278.6 821.1M1280.4 837.2M1279.1 843.7M1278.1 838.8M1283.1 833.3M1279 828.1M1279.8 869.9M1280.1 843.5M1279.7 875.2M1280.1 849.6M1279.1 861.6M1281 865.1M1279.3 849.3M1277.8 853M1276.2 819.5M1278.5 853.4M1279.8 872.8M1281.6 842.3M1278.7 855.8M1279 819.8M1280.1 818.8M1283.5 879.2M1289.4 931.4M1291.7 969.6M1290.3 969M1289.3 930.3M1290.3 956.4M1290.1 943.2M1289.9 943.7M1289.5 965.2M1289.1 945.8M1291.3 926.6M1291.4 945.9M1289.5 978.7M1289 944.9M1291.3 970.5M1291 970M1289 937.4M1291.2 968.2M1289.3 946.4M1288.7 960.6M1291.8 919.4M1289.1 946.3M1290.7 922.4M1289.7 933.5M1290.1 939.7M1290 968.4M1289.9 919.6M1290.5 963.9M1286.3 970.9M1288.8 949.3M1290.9 976.5M1291.1 945.3M1288.7 967.5M1287.2 917.1M1287.9 958M1290.3 953.7M1289.2 936.7M1289.2 917.6M1290.5 947.7M1290.6 936.9M1288.4 919.3M1290.8 930.9M1289.7 930.2M1290 916.2M1290.9 930.9M1289.9 940.4M1291.4 940.3M1290.1 956.3M1291.3 939.8M1292.6 977.9M1288.6 956.4M1290 930.8M1291.3 973.9M1288.3 930.3M1289.6 940.6M1289.8 930.9M1289.7 976.5M1290.9 922.4M1289.7 952M1292.8 930.2M1289.6 925.3" fill="none" stroke="none" marker-start="url(#mt)" marker-mid="url(#mt)" marker-end="url(#mt)"/></g><g id="matplotlib.axis_1"> <g id="xtick_1"> <g id="line2d_1"> <defs> <path id="me537d9f22a" d="M 0 0 L 0 -2.4 " style="stroke: #000000; stroke-width: 0.48"/> </defs> <g> <use href="#me537d9f22a" x="64.92" y="123.12" style="stroke: #000000; stroke-width: 0.48"/> </g> </g> <g id="line2d_2"> <defs> <path id="m0947a7fa78" d="M 0 0 L 0 2.4 " style="stroke: #000000; stroke-width: 0.48"/> </defs> <g> <use href="#m0947a7fa78" x="64.92" y="8.28" style="stroke: #000000; stroke-width: 0.48"/> </g> </g> <g id="xtl_mathdefault101" transform="translate(0.1800 0.1200)"> <!-- $\mathdefault{10^{1}}$ --> <g transform="translate(58.76 131.938906) scale(0.07 -0.07)"> <defs> <path id="DejaVuSans-31" d="M 794 531 L 1825 531 L 1825 4091 L 703 3866 L 703 4441 L 1819 4666 L 2450 4666 L 2450 531 L 3481 531 L 3481 0 L 794 0 L 794 531 z " transform="scale(0.015625)"/> <path id="DejaVuSans-30" d="M 2034 4250 Q 1547 4250 1301 3770 Q 1056 3291 1056 2328 Q 1056 1369 1301 889 Q 1547 409 2034 409 Q 2525 409 2770 889 Q 3016 1369 3016 2328 Q 3016 3291 2770 3770 Q 2525 4250 2034 4250 z M 2034 4750 Q 2819 4750 3233 4129 Q 3647 3509 3647 2328 Q 3647 1150 3233 529 Q 2819 -91 2034 -91 Q 1250 -91 836 529 Q 422 1150 422 2328 Q 422 3509 836 4129 Q 1250 4750 2034 4750 z " transform="scale(0.015625)"/> </defs> <use href="#DejaVuSans-31" transform="translate(0 0.684375)"/> <use href="#DejaVuSans-30" transform="translate(63.623047 0.684375)"/> <use href="#DejaVuSans-31" transform="translate(128.203125 38.965625) scale(0.7)"/> </g> </g> </g> <g id="xtick_2"> <g id="line2d_3"> <g> <use href="#me537d9f22a" x="132.84" y="123.12" style="stroke: #000000; stroke-width: 0.48"/> </g> </g> <g id="line2d_4"> <g> <use href="#m0947a7fa78" x="132.84" y="8.28" style="stroke: #000000; stroke-width: 0.48"/> </g> </g> <g id="xtl_mathdefault102" transform="translate(0.3600 0.1200)"> <!-- $\mathdefault{10^{2}}$ --> <g transform="translate(126.68 131.938906) scale(0.07 -0.07)"> <defs> <path id="DejaVuSans-32" d="M 1228 531 L 3431 531 L 3431 0 L 469 0 L 469 531 Q 828 903 1448 1529 Q 2069 2156 2228 2338 Q 2531 2678 2651 2914 Q 2772 3150 2772 3378 Q 2772 3750 2511 3984 Q 2250 4219 1831 4219 Q 1534 4219 1204 4116 Q 875 4013 500 3803 L 500 4441 Q 881 4594 1212 4672 Q 1544 4750 1819 4750 Q 2544 4750 2975 4387 Q 3406 4025 3406 3419 Q 3406 3131 3298 2873 Q 3191 2616 2906 2266 Q 2828 2175 2409 1742 Q 1991 1309 1228 531 z " transform="scale(0.015625)"/> </defs> <use href="#DejaVuSans-31" transform="translate(0 0.765625)"/> <use href="#DejaVuSans-30" transform="translate(63.623047 0.765625)"/> <use href="#DejaVuSans-32" transform="translate(128.203125 39.046875) scale(0.7)"/> </g> </g> </g> <g id="xtick_3"> <g id="line2d_5"> <defs> <path id="m16e673dad6" d="M 0 0 L 0 -1.44 " style="stroke: #000000; stroke-width: 0.48"/> </defs> <g> <use href="#m16e673dad6" x="37.891915" y="123.12" style="stroke: #000000; stroke-width: 0.48"/> </g> </g> <g id="line2d_6"> <defs> <path id="md9bfd161a5" d="M 0 0 L 0 1.44 " style="stroke: #000000; stroke-width: 0.48"/> </defs> <g> <use href="#md9bfd161a5" x="37.891915" y="8.28" style="stroke: #000000; stroke-width: 0.48"/> </g> </g> </g> <g id="xtick_4"> <g id="line2d_7"> <g> <use href="#m16e673dad6" x="44.474043" y="123.12" style="stroke: #000000; stroke-width: 0.48"/> </g> </g> <g id="line2d_8"> <g> <use href="#md9bfd161a5" x="44.474043" y="8.28" style="stroke: #000000; stroke-width: 0.48"/> </g> </g> </g> <g id="xtick_5"> <g id="line2d_9"> <g> <use href="#m16e673dad6" x="49.852033" y="123.12" style="stroke: #000000; stroke-width: 0.48"/> </g> </g> <g id="line2d_10"> <g> <use href="#md9bfd161a5" x="49.852033" y="8.28" style="stroke: #000000; stroke-width: 0.48"/> </g> </g> </g> <g id="xtick_6"> <g id="line2d_11"> <g> <use href="#m16e673dad6" x="54.399059" y="123.12" style="stroke: #000000; stroke-width: 0.48"/> </g> </g> <g id="line2d_12"> <g> <use href="#md9bfd161a5" x="54.399059" y="8.28" style="stroke: #000000; stroke-width: 0.48"/> </g> </g> </g> <g id="xtick_7"> <g id="line2d_13"> <g> <use href="#m16e673dad6" x="58.337872" y="123.12" style="stroke: #000000; stroke-width: 0.48"/> </g> </g> <g id="line2d_14"> <g> <use href="#md9bfd161a5" x="58.337872" y="8.28" style="stroke: #000000; stroke-width: 0.48"/> </g> </g> </g> <g id="xtick_8"> <g id="line2d_15"> <g> <use href="#m16e673dad6" x="61.812151" y="123.12" style="stroke: #000000; stroke-width: 0.48"/> </g> </g> <g id="line2d_16"> <g> <use href="#md9bfd161a5" x="61.812151" y="8.28" style="stroke: #000000; stroke-width: 0.48"/> </g> </g> </g> <g id="xtick_9"> <g id="line2d_17"> <g> <use href="#m16e673dad6" x="85.365957" y="123.12" style="stroke: #000000; stroke-width: 0.48"/> </g> </g> <g id="line2d_18"> <g> <use href="#md9bfd161a5" x="85.365957" y="8.28" style="stroke: #000000; stroke-width: 0.48"/> </g> </g> </g> <g id="xtick_10"> <g id="line2d_19"> <g> <use href="#m16e673dad6" x="97.326076" y="123.12" style="stroke: #000000; stroke-width: 0.48"/> </g> </g> <g id="line2d_20"> <g> <use href="#md9bfd161a5" x="97.326076" y="8.28" style="stroke: #000000; stroke-width: 0.48"/> </g> </g> </g> <g id="xtick_11"> <g id="line2d_21"> <g> <use href="#m16e673dad6" x="105.811915" y="123.12" style="stroke: #000000; stroke-width: 0.48"/> </g> </g> <g id="line2d_22"> <g> <use href="#md9bfd161a5" x="105.811915" y="8.28" style="stroke: #000000; stroke-width: 0.48"/> </g> </g> </g> <g id="xtick_12"> <g id="line2d_23"> <g> <use href="#m16e673dad6" x="112.394043" y="123.12" style="stroke: #000000; stroke-width: 0.48"/> </g> </g> <g id="line2d_24"> <g> <use href="#md9bfd161a5" x="112.394043" y="8.28" style="stroke: #000000; stroke-width: 0.48"/> </g> </g> </g> <g id="xtick_13"> <g id="line2d_25"> <g> <use href="#m16e673dad6" x="117.772033" y="123.12" style="stroke: #000000; stroke-width: 0.48"/> </g> </g> <g id="line2d_26"> <g> <use href="#md9bfd161a5" x="117.772033" y="8.28" style="stroke: #000000; stroke-width: 0.48"/> </g> </g> </g> <g id="xtick_14"> <g id="line2d_27"> <g> <use href="#m16e673dad6" x="122.319059" y="123.12" style="stroke: #000000; stroke-width: 0.48"/> </g> </g> <g id="line2d_28"> <g> <use href="#md9bfd161a5" x="122.319059" y="8.28" style="stroke: #000000; stroke-width: 0.48"/> </g> </g> </g> <g id="xtick_15"> <g id="line2d_29"> <g> <use href="#m16e673dad6" x="126.257872" y="123.12" style="stroke: #000000; stroke-width: 0.48"/> </g> </g> <g id="line2d_30"> <g> <use href="#md9bfd161a5" x="126.257872" y="8.28" style="stroke: #000000; stroke-width: 0.48"/> </g> </g> </g> <g id="xtick_16"> <g id="line2d_31"> <g> <use href="#m16e673dad6" x="129.732151" y="123.12" style="stroke: #000000; stroke-width: 0.48"/> </g> </g> <g id="line2d_32"> <g> <use href="#md9bfd161a5" x="129.732151" y="8.28" style="stroke: #000000; stroke-width: 0.48"/> </g> </g> </g> <g id="xtick_17"> <g id="line2d_33"> <g> <use href="#m16e673dad6" x="153.285957" y="123.12" style="stroke: #000000; stroke-width: 0.48"/> </g> </g> <g id="line2d_34"> <g> <use href="#md9bfd161a5" x="153.285957" y="8.28" style="stroke: #000000; stroke-width: 0.48"/> </g> </g> </g> <g id="xlabel" transform="translate(0.2760 0.4440)"> <!-- Frequency (cm$^{-1}$) --> <g transform="translate(66.32 143.694688) scale(0.07 -0.07)"> <defs> <path id="DejaVuSans-46" d="M 628 4666 L 3309 4666 L 3309 4134 L 1259 4134 L 1259 2759 L 3109 2759 L 3109 2228 L 1259 2228 L 1259 0 L 628 0 L 628 4666 z " transform="scale(0.015625)"/> <path id="DejaVuSans-72" d="M 2631 2963 Q 2534 3019 2420 3045 Q 2306 3072 2169 3072 Q 1681 3072 1420 2755 Q 1159 2438 1159 1844 L 1159 0 L 581 0 L 581 3500 L 1159 3500 L 1159 2956 Q 1341 3275 1631 3429 Q 1922 3584 2338 3584 Q 2397 3584 2469 3576 Q 2541 3569 2628 3553 L 2631 2963 z " transform="scale(0.015625)"/> <path id="DejaVuSans-65" d="M 3597 1894 L 3597 1613 L 953 1613 Q 991 1019 1311 708 Q 1631 397 2203 397 Q 2534 397 2845 478 Q 3156 559 3463 722 L 3463 178 Q 3153 47 2828 -22 Q 2503 -91 2169 -91 Q 1331 -91 842 396 Q 353 884 353 1716 Q 353 2575 817 3079 Q 1281 3584 2069 3584 Q 2775 3584 3186 3129 Q 3597 2675 3597 1894 z M 3022 2063 Q 3016 2534 2758 2815 Q 2500 3097 2075 3097 Q 1594 3097 1305 2825 Q 1016 2553 972 2059 L 3022 2063 z " transform="scale(0.015625)"/> <path id="DejaVuSans-71" d="M 947 1747 Q 947 1113 1208 752 Q 1469 391 1925 391 Q 2381 391 2643 752 Q 2906 1113 2906 1747 Q 2906 2381 2643 2742 Q 2381 3103 1925 3103 Q 1469 3103 1208 2742 Q 947 2381 947 1747 z M 2906 525 Q 2725 213 2448 61 Q 2172 -91 1784 -91 Q 1150 -91 751 415 Q 353 922 353 1747 Q 353 2572 751 3078 Q 1150 3584 1784 3584 Q 2172 3584 2448 3432 Q 2725 3281 2906 2969 L 2906 3500 L 3481 3500 L 3481 -1331 L 2906 -1331 L 2906 525 z " transform="scale(0.015625)"/> <path id="DejaVuSans-75" d="M 544 1381 L 544 3500 L 1119 3500 L 1119 1403 Q 1119 906 1312 657 Q 1506 409 1894 409 Q 2359 409 2629 706 Q 2900 1003 2900 1516 L 2900 3500 L 3475 3500 L 3475 0 L 2900 0 L 2900 538 Q 2691 219 2414 64 Q 2138 -91 1772 -91 Q 1169 -91 856 284 Q 544 659 544 1381 z M 1991 3584 L 1991 3584 z " transform="scale(0.015625)"/> <path id="DejaVuSans-6e" d="M 3513 2113 L 3513 0 L 2938 0 L 2938 2094 Q 2938 2591 2744 2837 Q 2550 3084 2163 3084 Q 1697 3084 1428 2787 Q 1159 2491 1159 1978 L 1159 0 L 581 0 L 581 3500 L 1159 3500 L 1159 2956 Q 1366 3272 1645 3428 Q 1925 3584 2291 3584 Q 2894 3584 3203 3211 Q 3513 2838 3513 2113 z " transform="scale(0.015625)"/> <path id="DejaVuSans-63" d="M 3122 3366 L 3122 2828 Q 2878 2963 2633 3030 Q 2388 3097 2138 3097 Q 1578 3097 1268 2742 Q 959 2388 959 1747 Q 959 1106 1268 751 Q 1578 397 2138 397 Q 2388 397 2633 464 Q 2878 531 3122 666 L 3122 134 Q 2881 22 2623 -34 Q 2366 -91 2075 -91 Q 1284 -91 818 406 Q 353 903 353 1747 Q 353 2603 823 3093 Q 1294 3584 2113 3584 Q 2378 3584 2631 3529 Q 2884 3475 3122 3366 z " transform="scale(0.015625)"/> <path id="DejaVuSans-79" d="M 2059 -325 Q 1816 -950 1584 -1140 Q 1353 -1331 966 -1331 L 506 -1331 L 506 -850 L 844 -850 Q 1081 -850 1212 -737 Q 1344 -625 1503 -206 L 1606 56 L 191 3500 L 800 3500 L 1894 763 L 2988 3500 L 3597 3500 L 2059 -325 z " transform="scale(0.015625)"/> <path id="DejaVuSans-20" transform="scale(0.015625)"/> <path id="DejaVuSans-28" d="M 1984 4856 Q 1566 4138 1362 3434 Q 1159 2731 1159 2009 Q 1159 1288 1364 580 Q 1569 -128 1984 -844 L 1484 -844 Q 1016 -109 783 600 Q 550 1309 550 2009 Q 550 2706 781 3412 Q 1013 4119 1484 4856 L 1984 4856 z " transform="scale(0.015625)"/> <path id="DejaVuSans-6d" d="M 3328 2828 Q 3544 3216 3844 3400 Q 4144 3584 4550 3584 Q 5097 3584 5394 3201 Q 5691 2819 5691 2113 L 5691 0 L 5113 0 L 5113 2094 Q 5113 2597 4934 2840 Q 4756 3084 4391 3084 Q 3944 3084 3684 2787 Q 3425 2491 3425 1978 L 3425 0 L 2847 0 L 2847 2094 Q 2847 2600 2669 2842 Q 2491 3084 2119 3084 Q 1678 3084 1418 2786 Q 1159 2488 1159 1978 L 1159 0 L 581 0 L 581 3500 L 1159 3500 L 1159 2956 Q 1356 3278 1631 3431 Q 1906 3584 2284 3584 Q 2666 3584 2933 3390 Q 3200 3197 3328 2828 z " transform="scale(0.015625)"/> <path id="DejaVuSans-2212" d="M 678 2272 L 4684 2272 L 4684 1741 L 678 1741 L 678 2272 z " transform="scale(0.015625)"/> <path id="DejaVuSans-29" d="M 513 4856 L 1013 4856 Q 1481 4119 1714 3412 Q 1947 2706 1947 2009 Q 1947 1309 1714 600 Q 1481 -109 1013 -844 L 513 -844 Q 928 -128 1133 580 Q 1338 1288 1338 2009 Q 1338 2731 1133 3434 Q 928 4138 513 4856 z " transform="scale(0.015625)"/> </defs> <use href="#DejaVuSans-46" transform="translate(0 0.684375)"/> <use href="#DejaVuSans-72" transform="translate(57.519531 0.684375)"/> <use href="#DejaVuSans-65" transform="translate(98.632812 0.684375)"/> <use href="#DejaVuSans-71" transform="translate(160.15625 0.684375)"/> <use href="#DejaVuSans-75" transform="translate(223.632812 0.684375)"/> <use href="#DejaVuSans-65" transform="translate(287.011719 0.684375)"/> <use href="#DejaVuSans-6e" transform="translate(348.535156 0.684375)"/> <use href="#DejaVuSans-63" transform="translate(411.914062 0.684375)"/> <use href="#DejaVuSans-79" transform="translate(466.894531 0.684375)"/> <use href="#DejaVuSans-20" transform="translate(526.074219 0.684375)"/> <use href="#DejaVuSans-28" transform="translate(557.861328 0.684375)"/> <use href="#DejaVuSans-63" transform="translate(596.875 0.684375)"/> <use href="#DejaVuSans-6d" transform="translate(651.855469 0.684375)"/> <use href="#DejaVuSans-2212" transform="translate(750.224609 38.965625) scale(0.7)"/> <use href="#DejaVuSans-31" transform="translate(808.876953 38.965625) scale(0.7)"/> <use href="#DejaVuSans-29" transform="translate(856.147461 0.684375)"/> </g> </g> </g> <g id="matplotlib.axis_2"> <g id="ytick_1"> <g id="line2d_35"> <defs> <path id="me9a011ab93" d="M 0 0 L 2.4 0 " style="stroke: #000000; stroke-width: 0.48"/> </defs> <g> <use href="#me9a011ab93" x="33.48" y="102.348" style="stroke: #000000; stroke-width: 0.48"/> </g> </g> <g id="line2d_36"> <defs> <path id="mdecb4d07cd" d="M 0 0 L -2.4 0 " style="stroke: #000000; stroke-width: 0.48"/> </defs> <g> <use href="#mdecb4d07cd" x="161.88" y="102.348" style="stroke: #000000; stroke-width: 0.48"/> </g> </g> <g id="ytl_mathdefault100" transform="translate(0.3600 0.1200)"> <!-- $\mathdefault{10^{0}}$ --> <g transform="translate(17.66 105.007453) scale(0.07 -0.07)"> <use href="#DejaVuSans-31" transform="translate(0 0.765625)"/> <use href="#DejaVuSans-30" transform="translate(63.623047 0.765625)"/> <use href="#DejaVuSans-30" transform="translate(128.203125 39.046875) scale(0.7)"/> </g> </g> </g> <g id="ytick_2"> <g id="line2d_37"> <g> <use href="#me9a011ab93" x="33.48" y="56.088" style="stroke: #000000; stroke-width: 0.48"/> </g> </g> <g id="line2d_38"> <g> <use href="#mdecb4d07cd" x="161.88" y="56.088" style="stroke: #000000; stroke-width: 0.48"/> </g> </g> <g id="ytl_mathdefault101" transform="translate(0.4800 0.0600)"> <!-- $\mathdefault{10^{1}}$ --> <g transform="translate(17.66 58.747453) scale(0.07 -0.07)"> <use href="#DejaVuSans-31" transform="translate(0 0.684375)"/> <use href="#DejaVuSans-30" transform="translate(63.623047 0.684375)"/> <use href="#DejaVuSans-31" transform="translate(128.203125 38.965625) scale(0.7)"/> </g> </g> </g> <g id="ytick_3"> <g id="line2d_39"> <g> <use href="#me9a011ab93" x="33.48" y="9.828" style="stroke: #000000; stroke-width: 0.48"/> </g> </g> <g id="line2d_40"> <g> <use href="#mdecb4d07cd" x="161.88" y="9.828" style="stroke: #000000; stroke-width: 0.48"/> </g> </g> <g id="ytl_mathdefault102" transform="translate(0.6000 0.1200)"> <!-- $\mathdefault{10^{2}}$ --> <g transform="translate(17.66 12.487453) scale(0.07 -0.07)"> <use href="#DejaVuSans-31" transform="translate(0 0.765625)"/> <use href="#DejaVuSans-30" transform="translate(63.623047 0.765625)"/> <use href="#DejaVuSans-32" transform="translate(128.203125 39.046875) scale(0.7)"/> </g> </g> </g> <g id="ytick_4"> <g id="line2d_41"> <defs> <path id="m53bff3e6fa" d="M 0 0 L 1.44 0 " style="stroke: #000000; stroke-width: 0.48"/> </defs> <g> <use href="#m53bff3e6fa" x="33.48" y="120.756705" style="stroke: #000000; stroke-width: 0.48"/> </g> </g> <g id="line2d_42"> <defs> <path id="m4bfb21146e" d="M 0 0 L -1.44 0 " style="stroke: #000000; stroke-width: 0.48"/> </defs> <g> <use href="#m4bfb21146e" x="161.88" y="120.756705" style="stroke: #000000; stroke-width: 0.48"/> </g> </g> </g> <g id="ytick_5"> <g id="line2d_43"> <g> <use href="#m53bff3e6fa" x="33.48" y="116.273648" style="stroke: #000000; stroke-width: 0.48"/> </g> </g> <g id="line2d_44"> <g> <use href="#m4bfb21146e" x="161.88" y="116.273648" style="stroke: #000000; stroke-width: 0.48"/> </g> </g> </g> <g id="ytick_6"> <g id="line2d_45"> <g> <use href="#m53bff3e6fa" x="33.48" y="112.610723" style="stroke: #000000; stroke-width: 0.48"/> </g> </g> <g id="line2d_46"> <g> <use href="#m4bfb21146e" x="161.88" y="112.610723" style="stroke: #000000; stroke-width: 0.48"/> </g> </g> </g> <g id="ytick_7"> <g id="line2d_47"> <g> <use href="#m53bff3e6fa" x="33.48" y="109.513765" style="stroke: #000000; stroke-width: 0.48"/> </g> </g> <g id="line2d_48"> <g> <use href="#m4bfb21146e" x="161.88" y="109.513765" style="stroke: #000000; stroke-width: 0.48"/> </g> </g> </g> <g id="ytick_8"> <g id="line2d_49"> <g> <use href="#m53bff3e6fa" x="33.48" y="106.831057" style="stroke: #000000; stroke-width: 0.48"/> </g> </g> <g id="line2d_50"> <g> <use href="#m4bfb21146e" x="161.88" y="106.831057" style="stroke: #000000; stroke-width: 0.48"/> </g> </g> </g> <g id="ytick_9"> <g id="line2d_51"> <g> <use href="#m53bff3e6fa" x="33.48" y="104.464742" style="stroke: #000000; stroke-width: 0.48"/> </g> </g> <g id="line2d_52"> <g> <use href="#m4bfb21146e" x="161.88" y="104.464742" style="stroke: #000000; stroke-width: 0.48"/> </g> </g> </g> <g id="ytick_10"> <g id="line2d_53"> <g> <use href="#m53bff3e6fa" x="33.48" y="88.422352" style="stroke: #000000; stroke-width: 0.48"/> </g> </g> <g id="line2d_54"> <g> <use href="#m4bfb21146e" x="161.88" y="88.422352" style="stroke: #000000; stroke-width: 0.48"/> </g> </g> </g> <g id="ytick_11"> <g id="line2d_55"> <g> <use href="#m53bff3e6fa" x="33.48" y="80.276371" style="stroke: #000000; stroke-width: 0.48"/> </g> </g> <g id="line2d_56"> <g> <use href="#m4bfb21146e" x="161.88" y="80.276371" style="stroke: #000000; stroke-width: 0.48"/> </g> </g> </g> <g id="ytick_12"> <g id="line2d_57"> <g> <use href="#m53bff3e6fa" x="33.48" y="74.496705" style="stroke: #000000; stroke-width: 0.48"/> </g> </g> <g id="line2d_58"> <g> <use href="#m4bfb21146e" x="161.88" y="74.496705" style="stroke: #000000; stroke-width: 0.48"/> </g> </g> </g> <g id="ytick_13"> <g id="line2d_59"> <g> <use href="#m53bff3e6fa" x="33.48" y="70.013648" style="stroke: #000000; stroke-width: 0.48"/> </g> </g> <g id="line2d_60"> <g> <use href="#m4bfb21146e" x="161.88" y="70.013648" style="stroke: #000000; stroke-width: 0.48"/> </g> </g> </g> <g id="ytick_14"> <g id="line2d_61"> <g> <use href="#m53bff3e6fa" x="33.48" y="66.350723" style="stroke: #000000; stroke-width: 0.48"/> </g> </g> <g id="line2d_62"> <g> <use href="#m4bfb21146e" x="161.88" y="66.350723" style="stroke: #000000; stroke-width: 0.48"/> </g> </g> </g> <g id="ytick_15"> <g id="line2d_63"> <g> <use href="#m53bff3e6fa" x="33.48" y="63.253765" style="stroke: #000000; stroke-width: 0.48"/> </g> </g> <g id="line2d_64"> <g> <use href="#m4bfb21146e" x="161.88" y="63.253765" style="stroke: #000000; stroke-width: 0.48"/> </g> </g> </g> <g id="ytick_16"> <g id="line2d_65"> <g> <use href="#m53bff3e6fa" x="33.48" y="60.571057" style="stroke: #000000; stroke-width: 0.48"/> </g> </g> <g id="line2d_66"> <g> <use href="#m4bfb21146e" x="161.88" y="60.571057" style="stroke: #000000; stroke-width: 0.48"/> </g> </g> </g> <g id="ytick_17"> <g id="line2d_67"> <g> <use href="#m53bff3e6fa" x="33.48" y="58.204742" style="stroke: #000000; stroke-width: 0.48"/> </g> </g> <g id="line2d_68"> <g> <use href="#m4bfb21146e" x="161.88" y="58.204742" style="stroke: #000000; stroke-width: 0.48"/> </g> </g> </g> <g id="ytick_18"> <g id="line2d_69"> <g> <use href="#m53bff3e6fa" x="33.48" y="42.162352" style="stroke: #000000; stroke-width: 0.48"/> </g> </g> <g id="line2d_70"> <g> <use href="#m4bfb21146e" x="161.88" y="42.162352" style="stroke: #000000; stroke-width: 0.48"/> </g> </g> </g> <g id="ytick_19"> <g id="line2d_71"> <g> <use href="#m53bff3e6fa" x="33.48" y="34.016371" style="stroke: #000000; stroke-width: 0.48"/> </g> </g> <g id="line2d_72"> <g> <use href="#m4bfb21146e" x="161.88" y="34.016371" style="stroke: #000000; stroke-width: 0.48"/> </g> </g> </g> <g id="ytick_20"> <g id="line2d_73"> <g> <use href="#m53bff3e6fa" x="33.48" y="28.236705" style="stroke: #000000; stroke-width: 0.48"/> </g> </g> <g id="line2d_74"> <g> <use href="#m4bfb21146e" x="161.88" y="28.236705" style="stroke: #000000; stroke-width: 0.48"/> </g> </g> </g> <g id="ytick_21"> <g id="line2d_75"> <g> <use href="#m53bff3e6fa" x="33.48" y="23.753648" style="stroke: #000000; stroke-width: 0.48"/> </g> </g> <g id="line2d_76"> <g> <use href="#m4bfb21146e" x="161.88" y="23.753648" style="stroke: #000000; stroke-width: 0.48"/> </g> </g> </g> <g id="ytick_22"> <g id="line2d_77"> <g> <use href="#m53bff3e6fa" x="33.48" y="20.090723" style="stroke: #000000; stroke-width: 0.48"/> </g> </g> <g id="line2d_78"> <g> <use href="#m4bfb21146e" x="161.88" y="20.090723" style="stroke: #000000; stroke-width: 0.48"/> </g> </g> </g> <g id="ytick_23"> <g id="line2d_79"> <g> <use href="#m53bff3e6fa" x="33.48" y="16.993765" style="stroke: #000000; stroke-width: 0.48"/> </g> </g> <g id="line2d_80"> <g> <use href="#m4bfb21146e" x="161.88" y="16.993765" style="stroke: #000000; stroke-width: 0.48"/> </g> </g> </g> <g id="ytick_24"> <g id="line2d_81"> <g> <use href="#m53bff3e6fa" x="33.48" y="14.311057" style="stroke: #000000; stroke-width: 0.48"/> </g> </g> <g id="line2d_82"> <g> <use href="#m4bfb21146e" x="161.88" y="14.311057" style="stroke: #000000; stroke-width: 0.48"/> </g> </g> </g> <g id="ytick_25"> <g id="line2d_83"> <g> <use href="#m53bff3e6fa" x="33.48" y="11.944742" style="stroke: #000000; stroke-width: 0.48"/> </g> </g> <g id="line2d_84"> <g> <use href="#m4bfb21146e" x="161.88" y="11.944742" style="stroke: #000000; stroke-width: 0.48"/> </g> </g> </g> <g id="ylabel" transform="translate(0.2520 0.2400)"> <!-- Lifetime (ps) --> <g transform="translate(12.204219 87.804141) rotate(-90) scale(0.07 -0.07)"> <defs> <path id="DejaVuSans-4c" d="M 628 4666 L 1259 4666 L 1259 531 L 3531 531 L 3531 0 L 628 0 L 628 4666 z " transform="scale(0.015625)"/> <path id="DejaVuSans-69" d="M 603 3500 L 1178 3500 L 1178 0 L 603 0 L 603 3500 z M 603 4863 L 1178 4863 L 1178 4134 L 603 4134 L 603 4863 z " transform="scale(0.015625)"/> <path id="DejaVuSans-66" d="M 2375 4863 L 2375 4384 L 1825 4384 Q 1516 4384 1395 4259 Q 1275 4134 1275 3809 L 1275 3500 L 2222 3500 L 2222 3053 L 1275 3053 L 1275 0 L 697 0 L 697 3053 L 147 3053 L 147 3500 L 697 3500 L 697 3744 Q 697 4328 969 4595 Q 1241 4863 1831 4863 L 2375 4863 z " transform="scale(0.015625)"/> <path id="DejaVuSans-74" d="M 1172 4494 L 1172 3500 L 2356 3500 L 2356 3053 L 1172 3053 L 1172 1153 Q 1172 725 1289 603 Q 1406 481 1766 481 L 2356 481 L 2356 0 L 1766 0 Q 1100 0 847 248 Q 594 497 594 1153 L 594 3053 L 172 3053 L 172 3500 L 594 3500 L 594 4494 L 1172 4494 z " transform="scale(0.015625)"/> <path id="DejaVuSans-70" d="M 1159 525 L 1159 -1331 L 581 -1331 L 581 3500 L 1159 3500 L 1159 2969 Q 1341 3281 1617 3432 Q 1894 3584 2278 3584 Q 2916 3584 3314 3078 Q 3713 2572 3713 1747 Q 3713 922 3314 415 Q 2916 -91 2278 -91 Q 1894 -91 1617 61 Q 1341 213 1159 525 z M 3116 1747 Q 3116 2381 2855 2742 Q 2594 3103 2138 3103 Q 1681 3103 1420 2742 Q 1159 2381 1159 1747 Q 1159 1113 1420 752 Q 1681 391 2138 391 Q 2594 391 2855 752 Q 3116 1113 3116 1747 z " transform="scale(0.015625)"/> <path id="DejaVuSans-73" d="M 2834 3397 L 2834 2853 Q 2591 2978 2328 3040 Q 2066 3103 1784 3103 Q 1356 3103 1142 2972 Q 928 2841 928 2578 Q 928 2378 1081 2264 Q 1234 2150 1697 2047 L 1894 2003 Q 2506 1872 2764 1633 Q 3022 1394 3022 966 Q 3022 478 2636 193 Q 2250 -91 1575 -91 Q 1294 -91 989 -36 Q 684 19 347 128 L 347 722 Q 666 556 975 473 Q 1284 391 1588 391 Q 1994 391 2212 530 Q 2431 669 2431 922 Q 2431 1156 2273 1281 Q 2116 1406 1581 1522 L 1381 1569 Q 847 1681 609 1914 Q 372 2147 372 2553 Q 372 3047 722 3315 Q 1072 3584 1716 3584 Q 2034 3584 2315 3537 Q 2597 3491 2834 3397 z " transform="scale(0.015625)"/> </defs> <use href="#DejaVuSans-4c"/> <use href="#DejaVuSans-69" transform="translate(55.712891 0)"/> <use href="#DejaVuSans-66" transform="translate(83.496094 0)"/> <use href="#DejaVuSans-65" transform="translate(118.701172 0)"/> <use href="#DejaVuSans-74" transform="translate(180.224609 0)"/> <use href="#DejaVuSans-69" transform="translate(219.433594 0)"/> <use href="#DejaVuSans-6d" transform="translate(247.216797 0)"/> <use href="#DejaVuSans-65" transform="translate(344.628906 0)"/> <use href="#DejaVuSans-20" transform="translate(406.152344 0)"/> <use href="#DejaVuSans-28" transform="translate(437.939453 0)"/> <use href="#DejaVuSans-70" transform="translate(476.953125 0)"/> <use href="#DejaVuSans-73" transform="translate(540.429688 0)"/> <use href="#DejaVuSans-29" transform="translate(592.529297 0)"/> </g> </g> </g> <g id="line2d_85"/> <g id="line2d_86"/> <g id="patch_3"> <path d="M 33.48 123.12 L 33.48 8.28 " style="fill: none; stroke: #000000; stroke-width: 0.48; stroke-linejoin: miter; stroke-linecap: square"/> </g> <g id="patch_4"> <path d="M 161.88 123.12 L 161.88 8.28 " style="fill: none; stroke: #000000; stroke-width: 0.48; stroke-linejoin: miter; stroke-linecap: square"/> </g> <g id="patch_5"> <path d="M 33.48 123.12 L 161.88 123.12 " style="fill: none; stroke: #000000; stroke-width: 0.48; stroke-linejoin: miter; stroke-linecap: square"/> </g> <g id="patch_6"> <path d="M 33.48 8.28 L 161.88 8.28 " style="fill: none; stroke: #000000; stroke-width: 0.48; stroke-linejoin: miter; stroke-linecap: square"/> </g> <g id="legend_1"> <g id="legframe"> <path d="M 130.292812 29.49375 L 158.88 29.49375 L 158.88 11.28 L 130.292812 11.28 z " style="fill: #ffffff; stroke: #8a8a8a; stroke-width: 0.24; stroke-linejoin: miter"/> </g> <g id="legh0" transform="translate(0.1200 0.1200)"> <defs> <path id="m9dfb508805" d="M 0 0.6516 C 0.172806 0.6516 0.338558 0.582943 0.460751 0.460751 C 0.582943 0.338558 0.6516 0.172806 0.6516 0 C 0.6516 -0.172806 0.582943 -0.338558 0.460751 -0.460751 C 0.338558 -0.582943 0.172806 -0.6516 0 -0.6516 C -0.172806 -0.6516 -0.338558 -0.582943 -0.460751 -0.460751 C -0.582943 -0.338558 -0.6516 -0.172806 -0.6516 0 C -0.6516 0.172806 -0.582943 0.338558 -0.460751 0.460751 C -0.338558 0.582943 -0.172806 0.6516 0 0.6516 z " style="stroke: #1f77b4; stroke-width: 0.282"/> </defs> <g> <use href="#m9dfb508805" x="135.692813" y="16.139063" style="fill-opacity: 0; stroke: #1f77b4; stroke-width: 0.282"/> </g> </g> <g id="legt0"> <!-- 300K --> <g transform="translate(141.092813 18.239063) scale(0.06 -0.06)"> <defs> <path id="DejaVuSans-33" d="M 2597 2516 Q 3050 2419 3304 2112 Q 3559 1806 3559 1356 Q 3559 666 3084 287 Q 2609 -91 1734 -91 Q 1441 -91 1130 -33 Q 819 25 488 141 L 488 750 Q 750 597 1062 519 Q 1375 441 1716 441 Q 2309 441 2620 675 Q 2931 909 2931 1356 Q 2931 1769 2642 2001 Q 2353 2234 1838 2234 L 1294 2234 L 1294 2753 L 1863 2753 Q 2328 2753 2575 2939 Q 2822 3125 2822 3475 Q 2822 3834 2567 4026 Q 2313 4219 1838 4219 Q 1578 4219 1281 4162 Q 984 4106 628 3988 L 628 4550 Q 988 4650 1302 4700 Q 1616 4750 1894 4750 Q 2613 4750 3031 4423 Q 3450 4097 3450 3541 Q 3450 3153 3228 2886 Q 3006 2619 2597 2516 z " transform="scale(0.015625)"/> <path id="DejaVuSans-4b" d="M 628 4666 L 1259 4666 L 1259 2694 L 3353 4666 L 4166 4666 L 1850 2491 L 4331 0 L 3500 0 L 1259 2247 L 1259 0 L 628 0 L 628 4666 z " transform="scale(0.015625)"/> </defs> <use href="#DejaVuSans-33"/> <use href="#DejaVuSans-30" transform="translate(63.623047 0)"/> <use href="#DejaVuSans-30" transform="translate(127.246094 0)"/> <use href="#DejaVuSans-4b" transform="translate(190.869141 0)"/> </g> </g> <g id="legh1"> <defs> <path id="m06a271f88e" d="M 0 -0.6516 L -0.6516 0.6516 L 0.6516 0.6516 z " style="stroke: #ff7f0e; stroke-width: 0.282; stroke-linejoin: miter"/> </defs> <g> <use href="#m06a271f88e" x="135.692813" y="23.745938" style="fill-opacity: 0; stroke: #ff7f0e; stroke-width: 0.282; stroke-linejoin: miter"/> </g> </g> <g id="legt1" transform="translate(0.0000 0.1200)"> <!-- 500K --> <g transform="translate(141.092813 25.845938) scale(0.06 -0.06)"> <defs> <path id="DejaVuSans-35" d="M 691 4666 L 3169 4666 L 3169 4134 L 1269 4134 L 1269 2991 Q 1406 3038 1543 3061 Q 1681 3084 1819 3084 Q 2600 3084 3056 2656 Q 3513 2228 3513 1497 Q 3513 744 3044 326 Q 2575 -91 1722 -91 Q 1428 -91 1123 -41 Q 819 9 494 109 L 494 744 Q 775 591 1075 516 Q 1375 441 1709 441 Q 2250 441 2565 725 Q 2881 1009 2881 1497 Q 2881 1984 2565 2268 Q 2250 2553 1709 2553 Q 1456 2553 1204 2497 Q 953 2441 691 2322 L 691 4666 z " transform="scale(0.015625)"/> </defs> <use href="#DejaVuSans-35"/> <use href="#DejaVuSans-30" transform="translate(63.623047 0)"/> <use href="#DejaVuSans-30" transform="translate(127.246094 0)"/> <use href="#DejaVuSans-4b" transform="translate(190.869141 0)"/> </g> </g> </g> </g> </g> </svg> </body></html>
